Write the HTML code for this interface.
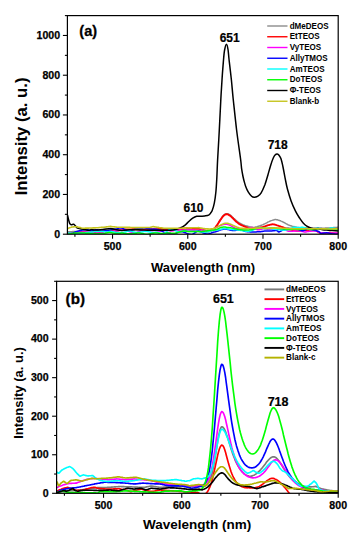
<!DOCTYPE html>
<html><head><meta charset="utf-8"><title>Intensity spectra</title><style>
html,body{margin:0;padding:0;background:#fff;}
svg{display:block;}
text{font-family:"Liberation Sans", sans-serif;font-weight:bold;fill:#000;}
.tl{font-size:10.6px;stroke:#000;stroke-width:0.25px;}
.lg{font-size:9px;}
.pl{font-size:14.5px;stroke:#000;stroke-width:0.3px;}
.ax{font-size:13px;}
.ax2{font-size:13.5px;}
.ay{font-size:16.7px;}
.ay2{font-size:13px;}
.pk{font-size:12px;stroke:#000;stroke-width:0.2px;}
.pk2{font-size:12.5px;stroke:#000;stroke-width:0.2px;}
.pl2{font-size:15.2px;stroke:#000;stroke-width:0.3px;}
</style></head><body>
<svg width="352" height="550" viewBox="0 0 352 550">
<rect width="352" height="550" fill="#fff"/>
<defs><clipPath id="ca"><rect x="67.4" y="15.6" width="270.80" height="218.60"/></clipPath><clipPath id="cb"><rect x="56.6" y="281.3" width="281.60" height="212.00"/></clipPath></defs>
<g clip-path="url(#ca)">
<path d="M67.4,231.8 68.2,231.8 68.9,231.8 69.7,231.7 70.4,231.7 71.2,231.7 71.9,231.7 72.7,231.6 73.4,231.6 74.2,231.6 74.9,231.6 75.7,231.5 76.4,231.5 77.2,231.5 77.9,231.4 78.7,231.4 79.4,231.4 80.2,231.4 80.9,231.3 81.7,231.3 82.4,231.3 83.2,231.3 83.9,231.2 84.7,231.2 85.5,231.2 86.2,231.2 87.0,231.1 87.7,231.1 88.5,231.1 89.2,231.0 90.0,231.0 90.7,231.0 91.5,231.0 92.2,230.9 93.0,230.9 93.7,230.9 94.5,230.9 95.2,230.8 96.0,230.8 96.7,230.8 97.5,230.8 98.2,230.7 99.0,230.7 99.7,230.7 100.5,230.7 101.2,230.6 102.0,230.6 102.8,230.6 103.5,230.5 104.3,230.5 105.0,230.5 105.8,230.5 106.5,230.4 107.3,230.4 108.0,230.4 108.8,230.4 109.5,230.3 110.3,230.3 111.0,230.3 111.8,230.3 112.5,230.2 113.3,230.2 114.0,230.2 114.8,230.2 115.5,230.2 116.3,230.2 117.0,230.2 117.8,230.2 118.6,230.2 119.3,230.2 120.1,230.1 120.8,230.1 121.6,230.1 122.3,230.1 123.1,230.1 123.8,230.1 124.6,230.1 125.3,230.1 126.1,230.1 126.8,230.1 127.6,230.1 128.3,230.1 129.1,230.1 129.8,230.0 130.6,230.0 131.3,230.0 132.1,230.0 132.8,230.0 133.6,230.0 134.3,230.0 135.1,230.0 135.9,230.0 136.6,230.0 137.4,230.0 138.1,230.0 138.9,230.0 139.6,229.9 140.4,229.9 141.1,229.9 141.9,229.9 142.6,229.9 143.4,229.9 144.1,229.9 144.9,229.9 145.6,229.9 146.4,229.9 147.1,229.9 147.9,229.9 148.6,229.8 149.4,229.8 150.1,229.8 150.9,229.8 151.6,229.8 152.4,229.8 153.2,229.8 153.9,229.8 154.7,229.8 155.4,229.8 156.2,229.8 156.9,229.8 157.7,229.8 158.4,229.8 159.2,229.7 159.9,229.7 160.7,229.7 161.4,229.7 162.2,229.7 162.9,229.7 163.7,229.7 164.4,229.7 165.2,229.7 165.9,229.7 166.7,229.7 167.4,229.7 168.2,229.7 168.9,229.7 169.7,229.6 170.5,229.6 171.2,229.6 172.0,229.6 172.7,229.6 173.5,229.6 174.2,229.6 175.0,229.6 175.7,229.6 176.5,229.6 177.2,229.6 178.0,229.6 178.7,229.5 179.5,229.5 180.2,229.5 181.0,229.5 181.7,229.5 182.5,229.5 183.2,229.5 184.0,229.5 184.7,229.5 185.5,229.5 186.3,229.5 187.0,229.4 187.8,229.4 188.5,229.6 189.3,229.7 190.0,229.8 190.8,230.0 191.5,230.1 192.3,230.2 193.0,230.4 193.8,230.5 194.5,230.6 195.3,230.8 196.0,230.9 196.8,231.0 197.5,231.1 198.3,231.3 199.0,231.4 199.8,231.5 200.5,231.6 201.3,231.7 202.0,231.8 202.8,231.9 203.6,232.0 204.3,232.1 205.1,232.1 205.8,232.2 206.6,232.2 207.3,232.1 208.1,232.0 208.8,231.9 209.6,231.8 210.3,231.5 211.1,231.2 211.8,230.8 212.6,230.4 213.3,229.9 214.1,229.2 214.8,228.3 215.6,227.3 216.3,226.3 217.1,225.1 217.8,223.9 218.6,222.7 219.3,221.5 220.1,220.2 220.9,219.0 221.6,217.9 222.4,216.8 223.1,215.9 223.9,215.1 224.6,214.4 225.4,214.0 226.1,213.7 226.9,213.7 227.6,213.8 228.4,214.0 229.1,214.4 229.9,214.9 230.6,215.4 231.4,216.1 232.1,216.8 232.9,217.5 233.6,218.2 234.4,218.9 235.1,219.6 235.9,220.3 236.6,220.9 237.4,221.5 238.2,222.1 238.9,222.6 239.7,223.0 240.4,223.5 241.2,223.9 241.9,224.3 242.7,224.6 243.4,225.0 244.2,225.2 244.9,225.5 245.7,225.7 246.4,225.9 247.2,226.1 247.9,226.3 248.7,226.5 249.4,226.7 250.2,226.9 250.9,227.0 251.7,227.2 252.4,227.3 253.2,227.4 254.0,227.4 254.7,227.3 255.5,227.1 256.2,227.0 257.0,226.8 257.7,226.5 258.5,226.3 259.2,226.0 260.0,225.8 260.7,225.5 261.5,225.2 262.2,224.9 263.0,224.6 263.7,224.3 264.5,223.9 265.2,223.6 266.0,223.2 266.7,222.8 267.5,222.3 268.2,221.9 269.0,221.6 269.7,221.3 270.5,220.9 271.3,220.6 272.0,220.4 272.8,220.1 273.5,219.9 274.3,219.7 275.0,219.6 275.8,219.6 276.5,219.7 277.3,219.8 278.0,220.0 278.8,220.2 279.5,220.5 280.3,220.7 281.0,221.1 281.8,221.4 282.5,221.8 283.3,222.1 284.0,222.5 284.8,222.9 285.5,223.4 286.3,223.8 287.0,224.2 287.8,224.7 288.6,224.9 289.3,225.2 290.1,225.5 290.8,225.7 291.6,226.0 292.3,226.2 293.1,226.4 293.8,226.6 294.6,226.8 295.3,226.9 296.1,227.1 296.8,227.3 297.6,227.5 298.3,227.6 299.1,227.7 299.8,227.8 300.6,227.9 301.3,228.0 302.1,228.0 302.8,228.1 303.6,228.1 304.3,228.1 305.1,228.1 305.9,228.1 306.6,228.1 307.4,228.1 308.1,228.1 308.9,228.0 309.6,228.0 310.4,228.0 311.1,228.0 311.9,228.0 312.6,228.0 313.4,227.9 314.1,227.9 314.9,227.9 315.6,227.9 316.4,227.9 317.1,227.9 317.9,227.9 318.6,228.0 319.4,228.0 320.1,228.1 320.9,228.1 321.7,228.1 322.4,228.2 323.2,228.2 323.9,228.2 324.7,228.2 325.4,228.1 326.2,228.1 326.9,228.1 327.7,228.0 328.4,228.0 329.2,227.9 329.9,227.9 330.7,227.8 331.4,227.8 332.2,227.7 332.9,227.7 333.7,227.6 334.4,227.5 335.2,227.5 335.9,227.4 336.7,227.4 337.4,227.3 338.2,227.2" fill="none" stroke="#8c8c8c" stroke-width="1.5" stroke-linejoin="round" stroke-linecap="round"/>
<path d="M67.4,232.9 68.2,232.9 68.9,232.9 69.7,232.9 70.4,232.9 71.2,233.0 71.9,233.0 72.7,232.9 73.4,232.9 74.2,232.9 74.9,232.9 75.7,232.9 76.4,232.8 77.2,232.8 77.9,232.8 78.7,232.7 79.4,232.6 80.2,232.6 80.9,232.5 81.7,232.4 82.4,232.4 83.2,232.4 83.9,232.4 84.7,232.4 85.5,232.5 86.2,232.6 87.0,232.6 87.7,232.7 88.5,232.7 89.2,232.7 90.0,232.7 90.7,232.6 91.5,232.6 92.2,232.5 93.0,232.4 93.7,232.3 94.5,232.1 95.2,232.0 96.0,231.9 96.7,231.8 97.5,231.8 98.2,231.8 99.0,231.7 99.7,231.7 100.5,231.6 101.2,231.5 102.0,231.4 102.8,231.2 103.5,231.1 104.3,231.0 105.0,230.9 105.8,230.9 106.5,230.9 107.3,230.9 108.0,230.9 108.8,230.9 109.5,230.9 110.3,230.9 111.0,230.9 111.8,230.9 112.5,230.9 113.3,230.9 114.0,230.9 114.8,230.9 115.5,230.9 116.3,230.8 117.0,230.7 117.8,230.6 118.6,230.5 119.3,230.3 120.1,230.1 120.8,229.9 121.6,229.7 122.3,229.6 123.1,229.5 123.8,229.5 124.6,229.5 125.3,229.5 126.1,229.5 126.8,229.5 127.6,229.5 128.3,229.5 129.1,229.5 129.8,229.5 130.6,229.5 131.3,229.4 132.1,229.3 132.8,229.2 133.6,229.2 134.3,229.2 135.1,229.1 135.9,229.2 136.6,229.2 137.4,229.3 138.1,229.3 138.9,229.4 139.6,229.5 140.4,229.5 141.1,229.6 141.9,229.7 142.6,229.7 143.4,229.7 144.1,229.7 144.9,229.6 145.6,229.5 146.4,229.5 147.1,229.4 147.9,229.3 148.6,229.2 149.4,229.2 150.1,229.2 150.9,229.2 151.6,229.2 152.4,229.3 153.2,229.3 153.9,229.3 154.7,229.3 155.4,229.3 156.2,229.2 156.9,229.2 157.7,229.1 158.4,229.0 159.2,229.0 159.9,228.9 160.7,228.9 161.4,228.8 162.2,228.8 162.9,228.9 163.7,229.0 164.4,229.1 165.2,229.2 165.9,229.4 166.7,229.5 167.4,229.7 168.2,229.8 168.9,229.8 169.7,229.9 170.5,229.9 171.2,229.9 172.0,229.9 172.7,229.8 173.5,229.8 174.2,229.8 175.0,229.8 175.7,229.8 176.5,229.8 177.2,229.7 178.0,229.7 178.7,229.6 179.5,229.5 180.2,229.4 181.0,229.2 181.7,229.0 182.5,228.8 183.2,228.7 184.0,228.5 184.7,228.4 185.5,228.4 186.3,228.3 187.0,228.3 187.8,228.4 188.5,228.4 189.3,228.5 190.0,228.5 190.8,228.6 191.5,228.7 192.3,228.8 193.0,228.9 193.8,228.9 194.5,228.9 195.3,228.9 196.0,228.9 196.8,228.8 197.5,228.8 198.3,228.7 199.0,228.9 199.8,229.0 200.5,229.2 201.3,229.4 202.0,229.6 202.8,229.8 203.6,230.0 204.3,230.2 205.1,230.4 205.8,230.6 206.6,230.7 207.3,230.7 208.1,230.8 208.8,230.7 209.6,230.7 210.3,230.5 211.1,230.3 211.8,230.1 212.6,229.7 213.3,229.3 214.1,228.8 214.8,228.0 215.6,227.1 216.3,226.1 217.1,225.1 217.8,224.0 218.6,222.8 219.3,221.6 220.1,220.4 220.9,219.3 221.6,218.2 222.4,217.1 223.1,216.2 223.9,215.5 224.6,214.9 225.4,214.5 226.1,214.3 226.9,214.3 227.6,214.4 228.4,214.7 229.1,215.1 229.9,215.6 230.6,216.1 231.4,216.8 232.1,217.5 232.9,218.2 233.6,219.0 234.4,219.8 235.1,220.5 235.9,221.3 236.6,222.0 237.4,222.6 238.2,223.2 238.9,223.8 239.7,224.2 240.4,224.7 241.2,225.0 241.9,225.3 242.7,225.7 243.4,226.0 244.2,226.3 244.9,226.6 245.7,226.9 246.4,227.1 247.2,227.4 247.9,227.6 248.7,227.8 249.4,228.0 250.2,228.1 250.9,228.2 251.7,228.3 252.4,228.4 253.2,228.4 254.0,228.5 254.7,228.5 255.5,228.4 256.2,228.4 257.0,228.3 257.7,228.2 258.5,228.0 259.2,227.9 260.0,227.7 260.7,227.5 261.5,227.3 262.2,227.1 263.0,226.9 263.7,226.7 264.5,226.5 265.2,226.3 266.0,226.0 266.7,225.7 267.5,225.5 268.2,225.2 269.0,225.0 269.7,224.8 270.5,224.6 271.3,224.5 272.0,224.4 272.8,224.3 273.5,224.4 274.3,224.5 275.0,224.6 275.8,224.8 276.5,225.1 277.3,225.4 278.0,225.6 278.8,225.9 279.5,226.1 280.3,226.4 281.0,226.7 281.8,226.9 282.5,227.1 283.3,227.4 284.0,227.7 284.8,227.9 285.5,228.3 286.3,228.6 287.0,228.9 287.8,229.2 288.6,229.3 289.3,229.4 290.1,229.5 290.8,229.7 291.6,229.9 292.3,230.0 293.1,230.2 293.8,230.4 294.6,230.5 295.3,230.6 296.1,230.7 296.8,230.8 297.6,230.8 298.3,230.8 299.1,230.8 299.8,230.8 300.6,230.7 301.3,230.6 302.1,230.4 302.8,230.4 303.6,230.3 304.3,230.3 305.1,230.2 305.9,230.2 306.6,230.3 307.4,230.3 308.1,230.3 308.9,230.3 309.6,230.4 310.4,230.3 311.1,230.3 311.9,230.3 312.6,230.2 313.4,230.2 314.1,230.2 314.9,230.1 315.6,230.1 316.4,230.7 317.1,231.2 317.9,231.8 318.6,232.3 319.4,232.8 320.1,232.9 320.9,233.1 321.7,233.2 322.4,233.4 323.2,233.5 323.9,233.5 324.7,233.4 325.4,233.4 326.2,233.3 326.9,233.1 327.7,233.0 328.4,232.9 329.2,232.8 329.9,232.8 330.7,232.8 331.4,232.9 332.2,233.0 332.9,233.2 333.7,233.3 334.4,233.4 335.2,233.5 335.9,233.5 336.7,233.4 337.4,233.4 338.2,233.3" fill="none" stroke="#ff0000" stroke-width="1.9" stroke-linejoin="round" stroke-linecap="round"/>
<path d="M67.4,233.5 68.2,233.5 68.9,233.6 69.7,233.6 70.4,233.6 71.2,233.6 71.9,233.5 72.7,233.3 73.4,233.1 74.2,232.9 74.9,232.6 75.7,232.4 76.4,232.3 77.2,232.2 77.9,232.2 78.7,232.2 79.4,232.3 80.2,232.3 80.9,232.4 81.7,232.3 82.4,232.2 83.2,232.2 83.9,232.1 84.7,232.1 85.5,232.0 86.2,231.9 87.0,231.9 87.7,231.9 88.5,231.9 89.2,232.0 90.0,232.1 90.7,232.3 91.5,232.5 92.2,232.7 93.0,232.9 93.7,233.1 94.5,233.2 95.2,233.2 96.0,233.2 96.7,233.2 97.5,233.1 98.2,233.1 99.0,233.1 99.7,233.1 100.5,233.0 101.2,232.9 102.0,232.7 102.8,232.4 103.5,232.1 104.3,231.7 105.0,231.4 105.8,231.1 106.5,231.0 107.3,230.9 108.0,231.0 108.8,231.1 109.5,231.2 110.3,231.4 111.0,231.4 111.8,231.4 112.5,231.3 113.3,231.2 114.0,231.1 114.8,230.9 115.5,230.8 116.3,230.7 117.0,230.7 117.8,230.6 118.6,230.5 119.3,230.3 120.1,230.2 120.8,230.1 121.6,230.1 122.3,230.1 123.1,230.1 123.8,230.2 124.6,230.4 125.3,230.6 126.1,230.8 126.8,231.0 127.6,231.1 128.3,231.3 129.1,231.5 129.8,231.7 130.6,231.9 131.3,232.2 132.1,232.4 132.8,232.6 133.6,232.8 134.3,232.8 135.1,232.8 135.9,232.7 136.6,232.4 137.4,232.2 138.1,231.8 138.9,231.5 139.6,231.2 140.4,231.0 141.1,230.8 141.9,230.6 142.6,230.5 143.4,230.4 144.1,230.4 144.9,230.5 145.6,230.5 146.4,230.6 147.1,230.7 147.9,230.8 148.6,230.8 149.4,230.8 150.1,230.8 150.9,230.8 151.6,230.7 152.4,230.7 153.2,230.6 153.9,230.6 154.7,230.6 155.4,230.6 156.2,230.7 156.9,230.8 157.7,230.9 158.4,231.0 159.2,231.1 159.9,231.2 160.7,231.2 161.4,231.1 162.2,231.0 162.9,230.9 163.7,230.7 164.4,230.6 165.2,230.5 165.9,230.4 166.7,230.4 167.4,230.4 168.2,230.5 168.9,230.6 169.7,230.8 170.5,230.9 171.2,230.9 172.0,230.9 172.7,230.8 173.5,230.7 174.2,230.5 175.0,230.3 175.7,230.1 176.5,230.0 177.2,229.9 178.0,229.8 178.7,229.9 179.5,229.9 180.2,230.0 181.0,230.1 181.7,230.2 182.5,230.2 183.2,230.3 184.0,230.3 184.7,230.3 185.5,230.2 186.3,230.2 187.0,230.2 187.8,230.1 188.5,230.0 189.3,230.0 190.0,229.9 190.8,229.9 191.5,229.9 192.3,229.9 193.0,230.0 193.8,230.1 194.5,230.2 195.3,230.3 196.0,230.4 196.8,230.5 197.5,230.6 198.3,230.5 199.0,230.5 199.8,230.3 200.5,230.2 201.3,230.1 202.0,230.1 202.8,230.1 203.6,230.2 204.3,230.4 205.1,230.6 205.8,230.8 206.6,231.0 207.3,231.1 208.1,231.1 208.8,231.0 209.6,230.8 210.3,230.6 211.1,230.3 211.8,229.9 212.6,229.5 213.3,229.1 214.1,228.7 214.8,228.3 215.6,228.0 216.3,227.6 217.1,227.3 217.8,226.9 218.6,226.5 219.3,226.1 220.1,225.7 220.9,225.4 221.6,225.0 222.4,224.8 223.1,224.5 223.9,224.4 224.6,224.3 225.4,224.2 226.1,224.2 226.9,224.3 227.6,224.4 228.4,224.7 229.1,224.9 229.9,225.3 230.6,225.7 231.4,226.1 232.1,226.5 232.9,226.9 233.6,227.3 234.4,227.6 235.1,227.9 235.9,228.2 236.6,228.4 237.4,228.6 238.2,228.7 238.9,228.8 239.7,228.9 240.4,228.9 241.2,228.8 241.9,228.7 242.7,228.7 243.4,228.7 244.2,228.8 244.9,228.8 245.7,228.8 246.4,228.7 247.2,228.6 247.9,228.4 248.7,228.1 249.4,227.9 250.2,227.7 250.9,227.5 251.7,227.5 252.4,227.6 253.2,227.8 254.0,228.1 254.7,228.5 255.5,228.8 256.2,229.3 257.0,229.6 257.7,229.8 258.5,229.8 259.2,229.8 260.0,229.6 260.7,229.4 261.5,229.2 262.2,229.0 263.0,228.8 263.7,228.8 264.5,228.8 265.2,228.8 266.0,228.9 266.7,229.0 267.5,229.2 268.2,229.3 269.0,229.3 269.7,229.3 270.5,229.4 271.3,229.4 272.0,229.4 272.8,229.4 273.5,229.5 274.3,229.6 275.0,229.7 275.8,229.7 276.5,229.8 277.3,229.7 278.0,229.6 278.8,229.4 279.5,229.2 280.3,229.0 281.0,228.9 281.8,228.8 282.5,228.9 283.3,229.0 284.0,229.2 284.8,229.6 285.5,230.0 286.3,230.3 287.0,230.7 287.8,231.0 288.6,231.2 289.3,231.3 290.1,231.3 290.8,231.3 291.6,231.3 292.3,231.2 293.1,231.2 293.8,231.1 294.6,231.1 295.3,231.1 296.1,231.1 296.8,231.1 297.6,231.0 298.3,231.0 299.1,231.0 299.8,231.0 300.6,231.1 301.3,231.3 302.1,231.4 302.8,231.6 303.6,231.8 304.3,231.9 305.1,231.9 305.9,231.9 306.6,231.8 307.4,231.6 308.1,231.5 308.9,231.4 309.6,231.3 310.4,231.2 311.1,231.2 311.9,231.1 312.6,231.1 313.4,231.0 314.1,230.9 314.9,230.9 315.6,230.8 316.4,231.1 317.1,231.4 317.9,231.7 318.6,232.1 319.4,232.4 320.1,232.6 320.9,232.7 321.7,232.8 322.4,232.9 323.2,232.9 323.9,232.8 324.7,232.8 325.4,232.8 326.2,232.8 326.9,232.9 327.7,233.0 328.4,233.0 329.2,233.0 329.9,233.0 330.7,232.9 331.4,232.9 332.2,232.9 332.9,232.9 333.7,232.9 334.4,232.9 335.2,233.0 335.9,233.0 336.7,232.9 337.4,232.9 338.2,232.8" fill="none" stroke="#ff00ff" stroke-width="1.5" stroke-linejoin="round" stroke-linecap="round"/>
<path d="M67.4,234.3 68.2,234.3 68.9,234.2 69.7,234.1 70.4,233.9 71.2,233.8 71.9,233.5 72.7,233.2 73.4,232.8 74.2,232.5 74.9,232.1 75.7,231.8 76.4,231.6 77.2,231.4 77.9,231.1 78.7,230.9 79.4,230.7 80.2,230.6 80.9,230.4 81.7,230.2 82.4,230.0 83.2,229.9 83.9,229.8 84.7,229.7 85.5,229.6 86.2,229.6 87.0,229.7 87.7,229.8 88.5,230.0 89.2,230.2 90.0,230.4 90.7,230.5 91.5,230.5 92.2,230.4 93.0,230.2 93.7,230.1 94.5,229.9 95.2,229.8 96.0,229.7 96.7,229.8 97.5,229.8 98.2,229.9 99.0,229.9 99.7,229.9 100.5,229.9 101.2,229.9 102.0,229.8 102.8,229.9 103.5,229.9 104.3,230.1 105.0,230.2 105.8,230.4 106.5,230.5 107.3,230.5 108.0,230.5 108.8,230.3 109.5,230.2 110.3,229.9 111.0,229.7 111.8,229.6 112.5,229.4 113.3,229.3 114.0,229.2 114.8,229.2 115.5,229.1 116.3,228.9 117.0,228.8 117.8,228.5 118.6,228.3 119.3,228.1 120.1,228.0 120.8,228.0 121.6,228.1 122.3,228.3 123.1,228.5 123.8,228.9 124.6,229.2 125.3,229.6 126.1,230.0 126.8,230.3 127.6,230.5 128.3,230.7 129.1,230.8 129.8,230.8 130.6,230.6 131.3,230.4 132.1,230.1 132.8,229.9 133.6,229.6 134.3,229.4 135.1,229.2 135.9,229.0 136.6,228.9 137.4,228.8 138.1,228.8 138.9,228.7 139.6,228.7 140.4,228.6 141.1,228.5 141.9,228.3 142.6,228.2 143.4,228.1 144.1,228.1 144.9,228.1 145.6,228.1 146.4,228.2 147.1,228.4 147.9,228.5 148.6,228.7 149.4,228.8 150.1,229.0 150.9,229.1 151.6,229.2 152.4,229.2 153.2,229.2 153.9,229.1 154.7,229.2 155.4,229.2 156.2,229.3 156.9,229.4 157.7,229.5 158.4,229.7 159.2,229.9 159.9,230.2 160.7,230.5 161.4,230.9 162.2,231.3 162.9,231.7 163.7,232.1 164.4,232.4 165.2,232.8 165.9,232.9 166.7,233.0 167.4,233.1 168.2,233.2 168.9,233.2 169.7,233.4 170.5,233.5 171.2,233.7 172.0,233.9 172.7,234.0 173.5,234.0 174.2,233.9 175.0,233.7 175.7,233.4 176.5,233.0 177.2,232.6 178.0,232.3 178.7,232.0 179.5,231.8 180.2,231.7 181.0,231.7 181.7,231.7 182.5,231.8 183.2,232.0 184.0,232.2 184.7,232.5 185.5,232.8 186.3,233.1 187.0,233.4 187.8,233.7 188.5,234.0 189.3,234.2 190.0,234.3 190.8,234.4 191.5,234.4 192.3,234.2 193.0,233.9 193.8,233.5 194.5,233.0 195.3,232.5 196.0,232.0 196.8,231.5 197.5,231.2 198.3,231.1 199.0,231.2 199.8,231.4 200.5,231.7 201.3,232.1 202.0,232.4 202.8,232.8 203.6,233.1 204.3,233.4 205.1,233.7 205.8,233.8 206.6,233.9 207.3,234.0 208.1,233.9 208.8,233.8 209.6,233.6 210.3,233.4 211.1,233.1 211.8,232.8 212.6,232.6 213.3,232.3 214.1,232.1 214.8,231.9 215.6,231.7 216.3,231.4 217.1,231.2 217.8,230.9 218.6,230.7 219.3,230.4 220.1,230.1 220.9,229.9 221.6,229.6 222.4,229.4 223.1,229.3 223.9,229.1 224.6,229.1 225.4,229.1 226.1,229.2 226.9,229.3 227.6,229.5 228.4,229.6 229.1,229.8 229.9,230.0 230.6,230.2 231.4,230.3 232.1,230.4 232.9,230.5 233.6,230.5 234.4,230.5 235.1,230.4 235.9,230.2 236.6,230.1 237.4,229.9 238.2,229.8 238.9,229.7 239.7,229.7 240.4,229.8 241.2,229.9 241.9,230.1 242.7,230.4 243.4,230.7 244.2,231.0 244.9,231.3 245.7,231.5 246.4,231.6 247.2,231.7 247.9,231.7 248.7,231.8 249.4,231.8 250.2,231.9 250.9,231.9 251.7,232.0 252.4,232.1 253.2,232.1 254.0,232.0 254.7,232.0 255.5,231.9 256.2,231.9 257.0,231.8 257.7,231.8 258.5,231.8 259.2,231.8 260.0,231.7 260.7,231.7 261.5,231.6 262.2,231.5 263.0,231.3 263.7,231.2 264.5,231.1 265.2,231.1 266.0,231.0 266.7,231.0 267.5,231.0 268.2,231.0 269.0,231.0 269.7,231.0 270.5,231.0 271.3,230.9 272.0,230.9 272.8,230.8 273.5,230.8 274.3,230.7 275.0,230.6 275.8,230.5 276.5,230.4 277.3,230.9 278.0,231.5 278.8,232.0 279.5,231.7 280.3,231.4 281.0,231.0 281.8,230.6 282.5,230.1 283.3,229.7 284.0,229.3 284.8,229.0 285.5,228.7 286.3,228.5 287.0,228.3 287.8,228.3 288.6,228.3 289.3,228.4 290.1,228.6 290.8,228.7 291.6,228.7 292.3,228.8 293.1,228.8 293.8,228.8 294.6,228.9 295.3,228.9 296.1,228.9 296.8,229.1 297.6,229.2 298.3,229.4 299.1,229.7 299.8,230.0 300.6,230.3 301.3,230.6 302.1,230.7 302.8,230.7 303.6,230.5 304.3,230.3 305.1,230.0 305.9,229.6 306.6,229.3 307.4,229.0 308.1,228.8 308.9,228.8 309.6,228.9 310.4,229.1 311.1,229.4 311.9,229.6 312.6,229.9 313.4,230.1 314.1,230.3 314.9,230.4 315.6,230.4 316.4,230.7 317.1,231.0 317.9,231.2 318.6,231.4 319.4,232.1 320.1,232.8 320.9,233.5 321.7,233.4 322.4,233.3 323.2,233.2 323.9,233.1 324.7,233.0 325.4,232.9 326.2,232.8 326.9,232.8 327.7,232.9 328.4,233.0 329.2,233.2 329.9,233.4 330.7,233.6 331.4,233.7 332.2,233.9 332.9,234.0 333.7,234.1 334.4,234.1 335.2,234.2 335.9,234.2 336.7,234.3 337.4,234.3 338.2,234.3" fill="none" stroke="#0000ff" stroke-width="1.5" stroke-linejoin="round" stroke-linecap="round"/>
<path d="M67.4,233.1 68.2,233.0 68.9,232.9 69.7,233.0 70.4,233.0 71.2,233.2 71.9,233.3 72.7,233.5 73.4,233.7 74.2,233.8 74.9,233.9 75.7,233.8 76.4,233.8 77.2,233.7 77.9,233.5 78.7,233.4 79.4,233.3 80.2,233.2 80.9,233.2 81.7,233.1 82.4,233.1 83.2,233.0 83.9,232.9 84.7,232.8 85.5,232.7 86.2,232.6 87.0,232.5 87.7,232.4 88.5,232.3 89.2,232.3 90.0,232.2 90.7,232.2 91.5,232.1 92.2,232.0 93.0,231.9 93.7,231.8 94.5,231.6 95.2,231.6 96.0,231.5 96.7,231.4 97.5,231.4 98.2,231.3 99.0,231.3 99.7,231.3 100.5,231.3 101.2,231.3 102.0,231.3 102.8,231.4 103.5,231.5 104.3,231.7 105.0,231.8 105.8,231.9 106.5,231.9 107.3,231.9 108.0,231.8 108.8,231.7 109.5,231.6 110.3,231.5 111.0,231.5 111.8,231.6 112.5,231.7 113.3,231.8 114.0,232.0 114.8,232.1 115.5,232.3 116.3,232.4 117.0,232.5 117.8,232.6 118.6,232.6 119.3,232.7 120.1,232.7 120.8,232.6 121.6,232.6 122.3,232.5 123.1,232.4 123.8,232.3 124.6,232.1 125.3,231.9 126.1,231.7 126.8,231.4 127.6,231.2 128.3,231.1 129.1,231.0 129.8,231.0 130.6,231.1 131.3,231.3 132.1,231.5 132.8,231.8 133.6,232.0 134.3,232.1 135.1,232.3 135.9,232.3 136.6,232.4 137.4,232.4 138.1,232.3 138.9,232.2 139.6,232.2 140.4,232.1 141.1,232.0 141.9,231.9 142.6,231.8 143.4,231.7 144.1,231.6 144.9,231.6 145.6,231.6 146.4,231.5 147.1,231.6 147.9,231.7 148.6,231.8 149.4,232.0 150.1,232.1 150.9,232.3 151.6,232.4 152.4,232.5 153.2,232.5 153.9,232.4 154.7,232.4 155.4,232.3 156.2,232.3 156.9,232.3 157.7,232.5 158.4,232.7 159.2,233.0 159.9,233.3 160.7,233.5 161.4,233.7 162.2,233.7 162.9,233.7 163.7,233.4 164.4,233.1 165.2,232.6 165.9,232.1 166.7,231.5 167.4,230.9 168.2,230.3 168.9,229.8 169.7,229.4 170.5,229.1 171.2,229.0 172.0,229.1 172.7,229.3 173.5,229.6 174.2,230.0 175.0,230.4 175.7,230.8 176.5,231.1 177.2,231.4 178.0,231.6 178.7,231.7 179.5,231.6 180.2,231.6 181.0,231.4 181.7,231.3 182.5,231.2 183.2,231.1 184.0,231.0 184.7,231.1 185.5,231.1 186.3,231.2 187.0,231.3 187.8,231.4 188.5,231.4 189.3,231.5 190.0,231.5 190.8,231.6 191.5,231.6 192.3,231.6 193.0,231.6 193.8,231.5 194.5,231.5 195.3,231.4 196.0,231.3 196.8,231.3 197.5,231.3 198.3,231.4 199.0,231.5 199.8,231.6 200.5,231.7 201.3,231.8 202.0,231.9 202.8,232.0 203.6,232.0 204.3,232.1 205.1,232.1 205.8,232.1 206.6,232.0 207.3,231.9 208.1,231.8 208.8,231.6 209.6,231.3 210.3,231.1 211.1,230.9 211.8,230.6 212.6,230.5 213.3,230.3 214.1,230.2 214.8,230.1 215.6,230.0 216.3,230.0 217.1,229.9 217.8,229.9 218.6,229.8 219.3,229.7 220.1,229.5 220.9,229.3 221.6,229.1 222.4,228.9 223.1,228.7 223.9,228.6 224.6,228.6 225.4,228.6 226.1,228.7 226.9,228.8 227.6,228.9 228.4,229.0 229.1,229.2 229.9,229.3 230.6,229.4 231.4,229.5 232.1,229.6 232.9,229.6 233.6,229.7 234.4,229.7 235.1,229.7 235.9,229.8 236.6,229.8 237.4,229.9 238.2,230.0 238.9,230.1 239.7,230.2 240.4,230.4 241.2,230.5 241.9,230.6 242.7,230.7 243.4,230.9 244.2,231.0 244.9,231.1 245.7,231.2 246.4,231.2 247.2,231.3 247.9,231.3 248.7,231.2 249.4,231.1 250.2,231.0 250.9,230.9 251.7,230.6 252.4,230.4 253.2,230.0 254.0,229.6 254.7,229.1 255.5,228.7 256.2,228.4 257.0,228.1 257.7,227.9 258.5,227.9 259.2,227.9 260.0,228.0 260.7,228.1 261.5,228.3 262.2,228.4 263.0,228.5 263.7,228.6 264.5,228.6 265.2,228.6 266.0,228.6 266.7,228.6 267.5,228.6 268.2,228.6 269.0,228.6 269.7,228.6 270.5,228.7 271.3,228.8 272.0,228.9 272.8,229.1 273.5,229.2 274.3,229.2 275.0,229.3 275.8,229.4 276.5,229.5 277.3,229.6 278.0,229.7 278.8,229.7 279.5,229.8 280.3,229.9 281.0,229.9 281.8,230.0 282.5,230.1 283.3,230.2 284.0,230.2 284.8,230.2 285.5,230.1 286.3,229.9 287.0,229.7 287.8,229.5 288.6,229.2 289.3,228.8 290.1,228.5 290.8,228.2 291.6,227.9 292.3,227.6 293.1,227.4 293.8,227.3 294.6,227.3 295.3,227.3 296.1,227.4 296.8,227.4 297.6,227.5 298.3,227.5 299.1,227.5 299.8,227.5 300.6,227.4 301.3,227.3 302.1,227.3 302.8,227.3 303.6,227.4 304.3,227.6 305.1,227.8 305.9,228.1 306.6,228.4 307.4,228.7 308.1,229.0 308.9,229.3 309.6,229.4 310.4,229.5 311.1,229.5 311.9,229.4 312.6,229.3 313.4,229.1 314.1,228.9 314.9,228.7 315.6,228.5 316.4,228.4 317.1,228.3 317.9,228.3 318.6,228.3 319.4,228.4 320.1,228.6 320.9,228.8 321.7,228.9 322.4,229.1 323.2,229.2 323.9,229.3 324.7,229.4 325.4,229.3 326.2,229.3 326.9,229.1 327.7,228.9 328.4,228.7 329.2,228.5 329.9,228.3 330.7,228.1 331.4,228.0 332.2,228.0 332.9,228.1 333.7,228.2 334.4,228.3 335.2,228.5 335.9,228.7 336.7,228.8 337.4,228.9 338.2,229.0" fill="none" stroke="#00ffff" stroke-width="1.5" stroke-linejoin="round" stroke-linecap="round"/>
<path d="M67.4,234.2 68.2,234.2 68.9,234.1 69.7,234.1 70.4,234.0 71.2,233.8 71.9,233.7 72.7,233.5 73.4,233.3 74.2,233.1 74.9,233.0 75.7,232.9 76.4,232.9 77.2,232.9 77.9,232.9 78.7,232.9 79.4,233.0 80.2,233.0 80.9,233.0 81.7,233.0 82.4,233.1 83.2,233.1 83.9,233.1 84.7,233.1 85.5,233.2 86.2,233.2 87.0,233.2 87.7,233.2 88.5,233.3 89.2,233.3 90.0,233.4 90.7,233.5 91.5,233.6 92.2,233.6 93.0,233.7 93.7,233.8 94.5,233.8 95.2,233.8 96.0,233.8 96.7,233.7 97.5,233.7 98.2,233.7 99.0,233.7 99.7,233.6 100.5,233.6 101.2,233.6 102.0,233.6 102.8,233.6 103.5,233.5 104.3,233.4 105.0,233.3 105.8,233.1 106.5,233.0 107.3,232.8 108.0,232.7 108.8,232.6 109.5,232.6 110.3,232.6 111.0,232.7 111.8,232.8 112.5,232.9 113.3,233.1 114.0,233.2 114.8,233.4 115.5,233.5 116.3,233.5 117.0,233.6 117.8,233.5 118.6,233.5 119.3,233.4 120.1,233.3 120.8,233.2 121.6,233.1 122.3,233.1 123.1,233.2 123.8,233.3 124.6,233.4 125.3,233.5 126.1,233.6 126.8,233.7 127.6,233.8 128.3,233.8 129.1,233.8 129.8,233.8 130.6,233.7 131.3,233.7 132.1,233.7 132.8,233.6 133.6,233.5 134.3,233.5 135.1,233.4 135.9,233.3 136.6,233.2 137.4,233.1 138.1,233.0 138.9,233.0 139.6,233.1 140.4,233.1 141.1,233.3 141.9,233.5 142.6,233.6 143.4,233.8 144.1,234.0 144.9,234.1 145.6,234.2 146.4,234.2 147.1,234.2 147.9,234.2 148.6,234.1 149.4,234.0 150.1,233.8 150.9,233.7 151.6,233.5 152.4,233.3 153.2,233.2 153.9,233.1 154.7,233.0 155.4,233.0 156.2,233.0 156.9,233.0 157.7,233.1 158.4,233.2 159.2,233.3 159.9,233.4 160.7,233.5 161.4,233.6 162.2,233.6 162.9,233.6 163.7,233.5 164.4,233.5 165.2,233.4 165.9,233.2 166.7,233.1 167.4,233.1 168.2,233.0 168.9,233.0 169.7,233.1 170.5,233.1 171.2,233.2 172.0,233.3 172.7,233.3 173.5,233.3 174.2,233.3 175.0,233.3 175.7,233.1 176.5,233.0 177.2,232.8 178.0,232.6 178.7,232.3 179.5,232.1 180.2,231.8 181.0,231.6 181.7,231.4 182.5,231.2 183.2,231.1 184.0,231.1 184.7,231.1 185.5,231.1 186.3,231.2 187.0,231.3 187.8,231.4 188.5,231.5 189.3,231.6 190.0,231.6 190.8,231.6 191.5,231.6 192.3,231.6 193.0,231.6 193.8,231.6 194.5,231.6 195.3,231.6 196.0,231.6 196.8,231.6 197.5,231.6 198.3,231.6 199.0,231.6 199.8,231.6 200.5,231.5 201.3,231.5 202.0,231.4 202.8,231.3 203.6,231.2 204.3,231.2 205.1,231.1 205.8,231.1 206.6,231.0 207.3,230.8 208.1,230.7 208.8,230.5 209.6,230.4 210.3,230.2 211.1,230.1 211.8,230.1 212.6,230.0 213.3,230.0 214.1,229.9 214.8,229.8 215.6,229.7 216.3,229.5 217.1,229.2 217.8,228.9 218.6,228.5 219.3,228.2 220.1,227.8 220.9,227.6 221.6,227.3 222.4,227.2 223.1,227.1 223.9,227.0 224.6,227.1 225.4,227.1 226.1,227.2 226.9,227.4 227.6,227.5 228.4,227.5 229.1,227.6 229.9,227.7 230.6,227.8 231.4,227.9 232.1,228.1 232.9,228.2 233.6,228.4 234.4,228.7 235.1,228.8 235.9,229.0 236.6,229.1 237.4,229.3 238.2,229.4 238.9,229.5 239.7,229.6 240.4,229.8 241.2,229.8 241.9,229.8 242.7,229.9 243.4,229.9 244.2,229.9 244.9,229.9 245.7,229.9 246.4,229.9 247.2,229.9 247.9,229.9 248.7,229.9 249.4,229.8 250.2,229.8 250.9,229.7 251.7,229.5 252.4,229.4 253.2,229.2 254.0,229.1 254.7,228.9 255.5,228.7 256.2,228.6 257.0,228.5 257.7,228.4 258.5,228.3 259.2,228.2 260.0,228.2 260.7,228.1 261.5,228.1 262.2,228.2 263.0,228.2 263.7,228.3 264.5,228.4 265.2,228.4 266.0,228.4 266.7,228.4 267.5,228.4 268.2,228.3 269.0,228.3 269.7,228.2 270.5,228.1 271.3,228.1 272.0,228.1 272.8,228.0 273.5,228.1 274.3,228.1 275.0,228.2 275.8,228.2 276.5,228.3 277.3,228.4 278.0,228.5 278.8,228.5 279.5,228.6 280.3,228.7 281.0,228.7 281.8,228.8 282.5,228.8 283.3,228.9 284.0,229.0 284.8,229.0 285.5,229.1 286.3,229.3 287.0,229.4 287.8,229.5 288.6,229.5 289.3,229.6 290.1,229.5 290.8,229.5 291.6,229.4 292.3,229.3 293.1,229.3 293.8,229.2 294.6,229.2 295.3,229.3 296.1,229.3 296.8,229.4 297.6,229.4 298.3,229.5 299.1,229.5 299.8,229.5 300.6,229.4 301.3,229.3 302.1,229.2 302.8,229.1 303.6,228.9 304.3,228.8 305.1,228.7 305.9,228.6 306.6,228.6 307.4,228.7 308.1,228.8 308.9,228.9 309.6,229.1 310.4,229.2 311.1,229.4 311.9,229.6 312.6,229.6 313.4,229.6 314.1,229.6 314.9,229.5 315.6,229.3 316.4,229.2 317.1,229.0 317.9,228.9 318.6,228.8 319.4,228.7 320.1,228.7 320.9,228.8 321.7,228.8 322.4,228.9 323.2,229.0 323.9,229.1 324.7,229.2 325.4,229.3 326.2,229.3 326.9,229.3 327.7,229.3 328.4,229.4 329.2,229.4 329.9,229.5 330.7,229.6 331.4,229.6 332.2,229.7 332.9,229.8 333.7,229.9 334.4,229.9 335.2,229.9 335.9,229.9 336.7,229.9 337.4,230.0 338.2,230.0" fill="none" stroke="#00ff00" stroke-width="1.5" stroke-linejoin="round" stroke-linecap="round"/>
<path d="M67.6,215.3 C67.8,216.2 68.4,219.1 68.8,220.5 C69.2,221.9 69.4,222.9 69.8,223.6 C70.2,224.3 70.5,224.7 71.2,224.8 C71.9,224.9 73.0,224.1 73.7,224.3 C74.4,224.5 74.9,225.4 75.5,226.0 C76.1,226.6 76.1,227.6 77.3,228.1 C78.5,228.6 80.6,228.7 82.4,229.1 C84.2,229.5 86.5,230.2 88.0,230.3 C89.5,230.4 90.4,229.6 91.6,229.6 C92.8,229.6 93.1,230.1 95.0,230.1 C96.9,230.1 100.2,229.8 102.8,229.5 C105.4,229.2 108.5,228.4 110.6,228.4 C112.7,228.4 113.5,229.2 115.3,229.5 C117.1,229.8 119.2,230.3 121.6,230.4 C123.9,230.5 127.1,230.0 129.4,229.8 C131.7,229.7 133.5,229.5 135.6,229.5 C137.7,229.5 139.5,229.9 141.9,230.0 C144.3,230.1 147.0,230.3 150.0,230.3 C153.0,230.3 156.7,230.2 160.0,230.2 C163.3,230.2 167.5,230.3 170.0,230.2 C172.5,230.1 173.1,230.1 174.8,229.7 C176.5,229.3 178.3,228.7 180.0,228.0 C181.7,227.3 183.3,226.4 184.8,225.3 C186.3,224.2 187.5,222.7 188.8,221.5 C190.1,220.3 191.4,219.1 192.7,218.2 C194.0,217.3 195.4,216.6 196.7,216.3 C198.0,216.0 199.2,216.2 200.5,216.2 C201.8,216.1 203.2,216.2 204.6,216.0 C205.9,215.8 207.5,215.8 208.6,215.2 C209.7,214.6 210.4,213.3 211.0,212.5 C211.6,211.7 211.6,212.1 212.2,210.5 C212.8,208.9 213.7,206.3 214.3,203.2 C214.9,200.1 215.5,196.0 215.9,191.8 C216.3,187.6 216.5,183.5 216.8,178.2 C217.1,172.9 217.2,168.0 217.6,160.0 C218.0,152.0 218.8,140.0 219.3,130.0 C219.8,120.0 220.4,108.3 220.8,100.0 C221.2,91.7 221.6,86.7 222.0,80.0 C222.4,73.3 223.1,65.0 223.5,60.0 C223.9,55.0 224.1,52.6 224.6,50.0 C225.1,47.4 225.8,44.2 226.4,44.2 C227.0,44.2 227.7,47.4 228.1,50.0 C228.5,52.6 228.5,55.0 229.1,60.0 C229.7,65.0 230.7,73.3 231.4,80.0 C232.1,86.7 232.4,91.7 233.3,100.0 C234.2,108.3 235.4,120.0 236.6,130.0 C237.8,140.0 239.9,153.6 240.7,160.0 C241.5,166.4 241.2,165.8 241.6,168.6 C242.0,171.3 242.5,174.0 243.0,176.5 C243.5,179.0 244.2,181.6 244.8,183.6 C245.3,185.6 245.9,187.0 246.5,188.5 C247.1,190.0 247.7,191.1 248.5,192.4 C249.3,193.7 250.7,195.4 251.6,196.2 C252.5,197.0 253.1,197.2 254.1,197.2 C255.1,197.2 256.4,197.0 257.5,196.3 C258.6,195.6 259.8,195.0 261.0,193.1 C262.2,191.2 263.6,188.0 264.8,185.0 C265.9,182.0 267.0,178.1 267.9,175.0 C268.8,171.9 269.5,169.2 270.4,166.2 C271.3,163.3 272.6,159.4 273.5,157.5 C274.4,155.6 274.9,155.2 275.5,154.6 C276.1,154.0 276.6,153.9 277.2,154.0 C277.8,154.1 278.4,154.5 279.0,155.3 C279.6,156.1 280.2,156.6 280.9,158.6 C281.6,160.6 282.4,164.1 283.1,167.5 C283.8,170.9 284.6,175.5 285.3,179.1 C286.0,182.7 286.5,185.7 287.5,189.3 C288.5,193.0 289.8,197.3 291.1,201.0 C292.4,204.7 294.1,208.3 295.5,211.2 C296.9,214.1 298.5,216.4 299.8,218.4 C301.1,220.4 302.2,221.9 303.4,223.2 C304.6,224.5 305.5,225.4 306.8,226.2 C308.1,227.0 310.1,227.8 311.4,228.2 C312.7,228.6 313.7,228.9 314.8,228.9 C315.9,228.9 316.9,228.3 318.2,228.4 C319.5,228.5 321.0,229.4 322.7,229.7 C324.4,230.0 325.8,230.0 328.4,230.2 C331.0,230.4 336.6,230.8 338.2,230.9" fill="none" stroke="#000000" stroke-width="1.5" stroke-linejoin="round" stroke-linecap="round"/>
<path d="M67.4,228.6 68.2,228.4 68.9,228.1 69.7,227.8 70.4,227.6 71.2,227.3 71.9,227.0 72.7,227.0 73.4,226.9 74.2,226.8 74.9,226.8 75.7,226.7 76.4,226.6 77.2,226.8 77.9,227.0 78.7,227.2 79.4,227.4 80.2,227.6 80.9,227.8 81.7,228.0 82.4,228.2 83.2,228.2 83.9,228.2 84.7,228.2 85.5,228.1 86.2,228.1 87.0,228.1 87.7,228.1 88.5,228.1 89.2,228.0 90.0,228.0 90.7,228.0 91.5,228.0 92.2,228.0 93.0,227.9 93.7,227.9 94.5,227.9 95.2,227.9 96.0,227.8 96.7,227.8 97.5,227.7 98.2,227.7 99.0,227.6 99.7,227.5 100.5,227.5 101.2,227.4 102.0,227.4 102.8,227.3 103.5,227.2 104.3,227.2 105.0,227.1 105.8,227.0 106.5,226.9 107.3,226.8 108.0,226.7 108.8,226.6 109.5,226.5 110.3,226.4 111.0,226.5 111.8,226.6 112.5,226.7 113.3,226.8 114.0,226.8 114.8,226.9 115.5,227.0 116.3,227.1 117.0,227.2 117.8,227.2 118.6,227.3 119.3,227.3 120.1,227.3 120.8,227.3 121.6,227.3 122.3,227.3 123.1,227.3 123.8,227.3 124.6,227.4 125.3,227.4 126.1,227.4 126.8,227.4 127.6,227.4 128.3,227.4 129.1,227.4 129.8,227.4 130.6,227.5 131.3,227.5 132.1,227.5 132.8,227.5 133.6,227.5 134.3,227.5 135.1,227.6 135.9,227.6 136.6,227.6 137.4,227.6 138.1,227.6 138.9,227.6 139.6,227.6 140.4,227.6 141.1,227.6 141.9,227.6 142.6,227.6 143.4,227.6 144.1,227.6 144.9,227.5 145.6,227.5 146.4,227.5 147.1,227.5 147.9,227.5 148.6,227.5 149.4,227.5 150.1,227.4 150.9,227.2 151.6,227.0 152.4,226.8 153.2,226.6 153.9,226.8 154.7,226.9 155.4,227.0 156.2,227.1 156.9,227.2 157.7,227.3 158.4,227.4 159.2,227.6 159.9,227.7 160.7,227.8 161.4,227.9 162.2,228.0 162.9,228.1 163.7,228.2 164.4,228.2 165.2,228.2 165.9,228.2 166.7,228.2 167.4,228.2 168.2,228.2 168.9,228.2 169.7,228.2 170.5,228.2 171.2,228.2 172.0,228.2 172.7,228.2 173.5,228.2 174.2,228.2 175.0,228.2 175.7,228.2 176.5,228.2 177.2,228.2 178.0,228.2 178.7,228.2 179.5,228.2 180.2,228.2 181.0,228.2 181.7,228.2 182.5,228.2 183.2,228.1 184.0,228.1 184.7,228.1 185.5,228.1 186.3,228.0 187.0,228.0 187.8,228.0 188.5,228.0 189.3,227.9 190.0,227.9 190.8,227.9 191.5,227.9 192.3,227.8 193.0,227.8 193.8,227.8 194.5,227.8 195.3,227.7 196.0,227.7 196.8,227.7 197.5,227.7 198.3,227.6 199.0,227.8 199.8,227.9 200.5,228.0 201.3,228.1 202.0,228.2 202.8,228.4 203.6,228.5 204.3,228.6 205.1,228.7 205.8,228.7 206.6,228.8 207.3,228.9 208.1,228.9 208.8,229.0 209.6,229.0 210.3,229.0 211.1,228.9 211.8,228.8 212.6,228.7 213.3,228.6 214.1,228.4 214.8,228.1 215.6,227.8 216.3,227.4 217.1,227.0 217.8,226.6 218.6,226.2 219.3,225.8 220.1,225.4 220.9,224.9 221.6,224.5 222.4,224.2 223.1,223.9 223.9,223.6 224.6,223.4 225.4,223.3 226.1,223.3 226.9,223.3 227.6,223.4 228.4,223.6 229.1,223.8 229.9,224.0 230.6,224.3 231.4,224.6 232.1,224.9 232.9,225.3 233.6,225.6 234.4,225.9 235.1,226.3 235.9,226.6 236.6,226.9 237.4,227.2 238.2,227.5 238.9,227.8 239.7,228.0 240.4,228.2 241.2,228.3 241.9,228.4 242.7,228.4 243.4,228.5 244.2,228.5 244.9,228.5 245.7,228.5 246.4,228.5 247.2,228.5 247.9,228.5 248.7,228.5 249.4,228.5 250.2,228.4 250.9,228.4 251.7,228.3 252.4,228.3 253.2,228.2 254.0,228.2 254.7,228.1 255.5,228.0 256.2,228.1 257.0,228.1 257.7,228.1 258.5,228.1 259.2,228.1 260.0,228.1 260.7,228.1 261.5,228.2 262.2,228.2 263.0,228.2 263.7,228.2 264.5,228.2 265.2,228.2 266.0,228.2 266.7,228.2 267.5,228.2 268.2,228.2 269.0,228.1 269.7,228.1 270.5,228.1 271.3,228.1 272.0,228.1 272.8,228.1 273.5,228.1 274.3,228.1 275.0,228.1 275.8,228.1 276.5,228.1 277.3,228.1 278.0,228.0 278.8,228.1 279.5,228.1 280.3,228.1 281.0,228.2 281.8,228.2 282.5,228.2 283.3,228.3 284.0,228.3 284.8,228.3 285.5,228.3 286.3,228.4 287.0,228.4 287.8,228.4 288.6,228.5 289.3,228.5 290.1,228.5 290.8,228.6 291.6,228.6 292.3,228.6 293.1,228.7 293.8,228.7 294.6,228.7 295.3,228.8 296.1,228.8 296.8,228.8 297.6,228.8 298.3,228.8 299.1,228.8 299.8,228.8 300.6,228.8 301.3,228.8 302.1,228.8 302.8,228.8 303.6,228.8 304.3,228.8 305.1,228.8 305.9,228.8 306.6,228.8 307.4,228.8 308.1,228.8 308.9,228.8 309.6,228.8 310.4,228.8 311.1,228.8 311.9,228.8 312.6,228.8 313.4,228.8 314.1,228.8 314.9,228.8 315.6,228.8 316.4,228.8 317.1,228.8 317.9,228.8 318.6,228.8 319.4,228.8 320.1,228.8 320.9,228.9 321.7,228.9 322.4,228.9 323.2,228.9 323.9,228.9 324.7,228.9 325.4,228.9 326.2,229.0 326.9,229.0 327.7,229.0 328.4,229.0 329.2,229.0 329.9,229.0 330.7,229.0 331.4,229.0 332.2,229.0 332.9,228.9 333.7,228.9 334.4,228.8 335.2,228.8 335.9,228.8 336.7,228.7 337.4,228.7 338.2,228.6" fill="none" stroke="#c6c41e" stroke-width="1.6" stroke-linejoin="round" stroke-linecap="round"/>
</g>
<rect x="67.4" y="15.6" width="270.80" height="218.60" fill="none" stroke="#000" stroke-width="1.2"/>
<line x1="112.53" y1="234.2" x2="112.53" y2="238.70" stroke="#000" stroke-width="1.1"/>
<text x="112.53" y="250.3" text-anchor="middle" class="tl">500</text>
<line x1="187.76" y1="234.2" x2="187.76" y2="238.70" stroke="#000" stroke-width="1.1"/>
<text x="187.76" y="250.3" text-anchor="middle" class="tl">600</text>
<line x1="262.98" y1="234.2" x2="262.98" y2="238.70" stroke="#000" stroke-width="1.1"/>
<text x="262.98" y="250.3" text-anchor="middle" class="tl">700</text>
<line x1="338.20" y1="234.2" x2="338.20" y2="238.70" stroke="#000" stroke-width="1.1"/>
<text x="338.20" y="250.3" text-anchor="middle" class="tl">800</text>
<line x1="74.92" y1="234.2" x2="74.92" y2="236.70" stroke="#000" stroke-width="1.1"/>
<line x1="150.14" y1="234.2" x2="150.14" y2="236.70" stroke="#000" stroke-width="1.1"/>
<line x1="225.37" y1="234.2" x2="225.37" y2="236.70" stroke="#000" stroke-width="1.1"/>
<line x1="300.59" y1="234.2" x2="300.59" y2="236.70" stroke="#000" stroke-width="1.1"/>
<line x1="62.90" y1="234.20" x2="67.4" y2="234.20" stroke="#000" stroke-width="1.1"/>
<text x="60.1" y="237.50" text-anchor="end" class="tl">0</text>
<line x1="62.90" y1="194.45" x2="67.4" y2="194.45" stroke="#000" stroke-width="1.1"/>
<text x="60.1" y="197.75" text-anchor="end" class="tl">200</text>
<line x1="62.90" y1="154.71" x2="67.4" y2="154.71" stroke="#000" stroke-width="1.1"/>
<text x="60.1" y="158.01" text-anchor="end" class="tl">400</text>
<line x1="62.90" y1="114.96" x2="67.4" y2="114.96" stroke="#000" stroke-width="1.1"/>
<text x="60.1" y="118.26" text-anchor="end" class="tl">600</text>
<line x1="62.90" y1="75.22" x2="67.4" y2="75.22" stroke="#000" stroke-width="1.1"/>
<text x="60.1" y="78.52" text-anchor="end" class="tl">800</text>
<line x1="62.90" y1="35.47" x2="67.4" y2="35.47" stroke="#000" stroke-width="1.1"/>
<text x="60.1" y="38.77" text-anchor="end" class="tl">1000</text>
<line x1="64.90" y1="214.33" x2="67.4" y2="214.33" stroke="#000" stroke-width="1.1"/>
<line x1="64.90" y1="174.58" x2="67.4" y2="174.58" stroke="#000" stroke-width="1.1"/>
<line x1="64.90" y1="134.84" x2="67.4" y2="134.84" stroke="#000" stroke-width="1.1"/>
<line x1="64.90" y1="95.09" x2="67.4" y2="95.09" stroke="#000" stroke-width="1.1"/>
<line x1="64.90" y1="55.35" x2="67.4" y2="55.35" stroke="#000" stroke-width="1.1"/>
<line x1="64.90" y1="15.60" x2="67.4" y2="15.60" stroke="#000" stroke-width="1.1"/>
<text x="79.3" y="35.6" class="pl">(a)</text>
<text x="203" y="271.6" text-anchor="middle" class="ax">Wavelength (nm)</text>
<text transform="translate(26.6,136.4) rotate(-90)" text-anchor="middle" class="ay">Intensity (a. u.)</text>
<text x="229.7" y="41.6" text-anchor="middle" class="pk">651</text>
<text x="277.7" y="149.3" text-anchor="middle" class="pk">718</text>
<text x="193.5" y="212" text-anchor="middle" class="pk">610</text>
<line x1="267.2" y1="26.00" x2="287.5" y2="26.00" stroke="#8c8c8c" stroke-width="1.4"/>
<text transform="translate(289.7,28.60) scale(0.895,1)" class="lg">dMeDEOS</text>
<line x1="267.2" y1="36.75" x2="287.5" y2="36.75" stroke="#ff0000" stroke-width="1.4"/>
<text transform="translate(289.7,39.35) scale(0.895,1)" class="lg">EtTEOS</text>
<line x1="267.2" y1="47.50" x2="287.5" y2="47.50" stroke="#ff00ff" stroke-width="1.4"/>
<text transform="translate(289.7,50.10) scale(0.895,1)" class="lg">VyTEOS</text>
<line x1="267.2" y1="58.25" x2="287.5" y2="58.25" stroke="#0000ff" stroke-width="1.4"/>
<text transform="translate(289.7,60.85) scale(0.895,1)" class="lg">AllyTMOS</text>
<line x1="267.2" y1="69.00" x2="287.5" y2="69.00" stroke="#00ffff" stroke-width="1.4"/>
<text transform="translate(289.7,71.60) scale(0.895,1)" class="lg">AmTEOS</text>
<line x1="267.2" y1="79.75" x2="287.5" y2="79.75" stroke="#00ff00" stroke-width="1.4"/>
<text transform="translate(289.7,82.35) scale(0.895,1)" class="lg">DoTEOS</text>
<line x1="267.2" y1="90.50" x2="287.5" y2="90.50" stroke="#000000" stroke-width="1.4"/>
<text transform="translate(289.7,93.10) scale(0.895,1)" class="lg">Φ-TEOS</text>
<line x1="267.2" y1="101.25" x2="287.5" y2="101.25" stroke="#c6c41e" stroke-width="1.4"/>
<text transform="translate(289.7,103.85) scale(0.895,1)" class="lg">Blank-b</text>
<g clip-path="url(#cb)">
<path d="M56.6,492.5 57.4,492.4 58.2,492.3 58.9,492.2 59.7,492.0 60.5,491.9 61.3,491.8 62.1,491.7 62.9,491.5 63.6,491.4 64.4,491.3 65.2,491.2 66.0,491.1 66.8,491.1 67.6,491.0 68.3,490.9 69.1,490.9 69.9,490.8 70.7,490.7 71.5,490.7 72.2,490.6 73.0,490.6 73.8,490.5 74.6,490.4 75.4,490.4 76.2,490.3 76.9,490.2 77.7,490.2 78.5,490.1 79.3,490.1 80.1,490.0 80.8,489.9 81.6,489.8 82.4,489.7 83.2,489.6 84.0,489.5 84.8,489.4 85.5,489.2 86.3,489.1 87.1,489.0 87.9,488.9 88.7,488.8 89.5,488.7 90.2,488.6 91.0,488.5 91.8,488.4 92.6,488.3 93.4,488.2 94.1,488.1 94.9,488.0 95.7,487.9 96.5,487.8 97.3,487.6 98.1,487.6 98.8,487.6 99.6,487.6 100.4,487.6 101.2,487.6 102.0,487.6 102.8,487.6 103.5,487.6 104.3,487.6 105.1,487.6 105.9,487.5 106.7,487.5 107.4,487.4 108.2,487.4 109.0,487.3 109.8,487.3 110.6,487.2 111.4,487.1 112.1,487.1 112.9,487.0 113.7,487.0 114.5,486.9 115.3,486.8 116.0,486.8 116.8,486.7 117.6,486.7 118.4,486.6 119.2,486.6 120.0,486.5 120.7,486.5 121.5,486.6 122.3,486.6 123.1,486.6 123.9,486.6 124.7,486.7 125.4,486.7 126.2,486.7 127.0,486.8 127.8,486.8 128.6,486.8 129.3,486.9 130.1,486.9 130.9,486.9 131.7,486.9 132.5,487.0 133.3,487.0 134.0,487.0 134.8,487.1 135.6,487.1 136.4,487.1 137.2,487.1 138.0,487.2 138.7,487.2 139.5,487.2 140.3,487.3 141.1,487.3 141.9,487.3 142.6,487.3 143.4,487.4 144.2,487.4 145.0,487.3 145.8,487.1 146.6,486.9 147.3,486.8 148.1,486.6 148.9,486.5 149.7,486.3 150.5,486.1 151.2,486.0 152.0,486.1 152.8,486.3 153.6,486.4 154.4,486.5 155.2,486.6 155.9,486.8 156.7,486.9 157.5,487.0 158.3,487.1 159.1,487.3 159.9,487.4 160.6,487.3 161.4,487.3 162.2,487.2 163.0,487.2 163.8,487.1 164.5,487.0 165.3,487.0 166.1,486.9 166.9,486.8 167.7,486.8 168.5,486.7 169.2,486.6 170.0,486.6 170.8,486.5 171.6,486.4 172.4,486.4 173.2,486.4 173.9,486.4 174.7,486.4 175.5,486.4 176.3,486.4 177.1,486.4 177.8,486.4 178.6,486.4 179.4,486.4 180.2,486.4 181.0,486.4 181.8,486.4 182.5,486.4 183.3,486.4 184.1,486.4 184.9,486.4 185.7,486.4 186.4,486.4 187.2,486.4 188.0,486.4 188.8,486.4 189.6,486.4 190.4,486.4 191.1,486.4 191.9,486.4 192.7,486.5 193.5,486.5 194.3,486.5 195.1,486.5 195.8,486.5 196.6,486.5 197.4,486.5 198.2,486.5 199.0,486.5 199.7,486.5 200.5,486.5 201.3,486.6 202.1,486.6 202.9,486.5 203.7,486.4 204.4,486.3 205.2,486.0 206.0,485.6 206.8,485.1 207.6,484.3 208.4,483.3 209.1,482.0 209.9,480.3 210.7,478.2 211.5,475.6 212.3,472.5 213.0,469.0 213.8,464.9 214.6,460.5 215.4,455.7 216.2,450.8 217.0,445.9 217.7,441.1 218.5,436.7 219.3,432.9 220.1,429.8 220.9,427.8 221.6,426.8 222.4,426.9 223.2,427.5 224.0,428.5 224.8,430.0 225.6,431.8 226.3,433.9 227.1,436.2 227.9,438.6 228.7,441.1 229.5,443.7 230.3,446.2 231.0,448.7 231.8,451.1 232.6,453.4 233.4,455.6 234.2,457.6 234.9,459.6 235.7,461.4 236.5,463.1 237.3,464.7 238.1,466.1 238.9,467.4 239.6,468.6 240.4,469.7 241.2,470.7 242.0,471.6 242.8,472.5 243.6,473.2 244.3,473.8 245.1,474.4 245.9,474.9 246.7,475.3 247.5,475.6 248.2,475.9 249.0,476.1 249.8,476.2 250.6,476.3 251.4,476.1 252.2,475.9 252.9,475.6 253.7,475.3 254.5,474.9 255.3,474.4 256.1,473.9 256.8,473.3 257.6,472.6 258.4,471.9 259.2,471.2 260.0,470.4 260.8,469.5 261.5,468.6 262.3,467.7 263.1,466.7 263.9,465.7 264.7,464.7 265.5,463.7 266.2,462.6 267.0,461.6 267.8,460.7 268.6,459.8 269.4,459.0 270.1,458.3 270.9,457.7 271.7,457.2 272.5,456.9 273.3,456.8 274.1,456.8 274.8,457.0 275.6,457.4 276.4,458.0 277.2,458.8 278.0,459.7 278.8,460.7 279.5,461.8 280.3,463.0 281.1,464.2 281.9,465.5 282.7,466.8 283.4,468.1 284.2,469.3 285.0,470.6 285.8,471.7 286.6,472.9 287.4,474.0 288.1,475.0 288.9,476.0 289.7,477.0 290.5,477.9 291.3,478.7 292.0,479.5 292.8,480.2 293.6,480.9 294.4,481.6 295.2,482.2 296.0,482.7 296.7,483.2 297.5,483.7 298.3,484.2 299.1,484.6 299.9,484.9 300.7,485.3 301.4,485.6 302.2,485.9 303.0,486.2 303.8,486.4 304.6,486.6 305.3,486.8 306.1,486.9 306.9,486.9 307.7,486.9 308.5,486.9 309.3,486.9 310.0,486.9 310.8,486.8 311.6,486.8 312.4,486.7 313.2,486.7 314.0,486.6 314.7,486.5 315.5,486.4 316.3,486.6 317.1,487.0 317.9,487.3 318.6,487.6 319.4,488.0 320.2,488.3 321.0,488.6 321.8,488.8 322.6,489.0 323.3,489.1 324.1,489.3 324.9,489.5 325.7,489.6 326.5,489.8 327.2,490.0 328.0,490.1 328.8,490.3 329.6,490.4 330.4,490.5 331.2,490.6 331.9,490.6 332.7,490.7 333.5,490.7 334.3,490.8 335.1,490.8 335.9,490.9 336.6,490.9 337.4,491.0 338.2,491.0" fill="none" stroke="#7a7a7a" stroke-width="1.65" stroke-linejoin="round" stroke-linecap="round"/>
<path d="M56.6,491.0 57.4,490.7 58.2,490.4 58.9,490.1 59.7,489.8 60.5,489.5 61.3,489.2 62.1,488.8 62.9,488.5 63.6,488.3 64.4,488.1 65.2,487.9 66.0,487.7 66.8,487.5 67.6,487.4 68.3,487.5 69.1,487.8 69.9,488.0 70.7,488.3 71.5,488.6 72.2,488.9 73.0,489.2 73.8,489.5 74.6,489.8 75.4,490.1 76.2,490.4 76.9,490.5 77.7,490.4 78.5,490.4 79.3,490.3 80.1,490.3 80.8,490.3 81.6,490.2 82.4,490.1 83.2,489.9 84.0,489.7 84.8,489.5 85.5,489.3 86.3,489.1 87.1,488.9 87.9,488.7 88.7,488.4 89.5,488.2 90.2,488.0 91.0,487.8 91.8,487.6 92.6,487.5 93.4,487.4 94.1,487.4 94.9,487.3 95.7,487.6 96.5,487.9 97.3,488.2 98.1,488.3 98.8,488.4 99.6,488.5 100.4,488.6 101.2,488.6 102.0,488.7 102.8,488.8 103.5,488.9 104.3,488.9 105.1,489.0 105.9,489.0 106.7,489.0 107.4,489.0 108.2,489.1 109.0,489.1 109.8,489.1 110.6,489.1 111.4,489.0 112.1,489.0 112.9,489.0 113.7,488.9 114.5,488.9 115.3,488.9 116.0,488.8 116.8,488.8 117.6,488.8 118.4,488.7 119.2,488.8 120.0,488.9 120.7,489.1 121.5,489.2 122.3,489.4 123.1,489.5 123.9,489.7 124.7,489.8 125.4,490.0 126.2,490.2 127.0,490.4 127.8,490.7 128.6,490.9 129.3,491.2 130.1,491.4 130.9,491.6 131.7,491.4 132.5,491.2 133.3,491.0 134.0,490.8 134.8,490.6 135.6,490.4 136.4,490.2 137.2,490.0 138.0,489.8 138.7,489.6 139.5,489.4 140.3,489.3 141.1,489.1 141.9,489.3 142.6,489.5 143.4,489.7 144.2,489.9 145.0,490.1 145.8,490.3 146.6,490.5 147.3,490.7 148.1,490.9 148.9,491.1 149.7,491.3 150.5,491.4 151.2,491.6 152.0,491.4 152.8,491.3 153.6,491.2 154.4,491.0 155.2,490.9 155.9,490.7 156.7,490.6 157.5,490.5 158.3,490.3 159.1,490.2 159.9,490.0 160.6,490.0 161.4,490.1 162.2,490.2 163.0,490.2 163.8,490.3 164.5,490.3 165.3,490.4 166.1,490.4 166.9,490.5 167.7,490.5 168.5,490.6 169.2,490.6 170.0,490.7 170.8,490.7 171.6,490.8 172.4,490.8 173.2,490.9 173.9,490.9 174.7,491.0 175.5,491.0 176.3,491.1 177.1,491.1 177.8,491.2 178.6,491.3 179.4,491.3 180.2,491.4 181.0,491.4 181.8,491.5 182.5,491.5 183.3,491.6 184.1,491.6 184.9,491.7 185.7,491.7 186.4,491.8 187.2,491.8 188.0,491.9 188.8,491.9 189.6,492.0 190.4,492.0 191.1,492.1 191.9,492.1 192.7,492.2 193.5,492.3 194.3,492.3 195.1,492.4 195.8,492.4 196.6,492.5 197.4,492.5 198.2,492.8 199.0,493.2 199.7,493.7 200.5,494.0 201.3,494.4 202.1,494.7 202.9,495.0 203.7,494.8 204.4,494.4 205.2,493.9 206.0,493.3 206.8,492.5 207.6,491.5 208.4,490.2 209.1,488.7 209.9,486.9 210.7,484.8 211.5,482.3 212.3,479.5 213.0,476.5 213.8,473.1 214.6,469.6 215.4,465.9 216.2,462.2 217.0,458.5 217.7,455.1 218.5,452.0 219.3,449.3 220.1,447.2 220.9,445.8 221.6,445.1 222.4,445.2 223.2,446.1 224.0,447.7 224.8,449.9 225.6,452.5 226.3,455.3 227.1,458.3 227.9,461.2 228.7,464.1 229.5,466.7 230.3,469.2 231.0,471.5 231.8,473.6 232.6,475.5 233.4,477.2 234.2,478.7 234.9,480.0 235.7,481.2 236.5,482.3 237.3,483.2 238.1,484.0 238.9,484.7 239.6,485.3 240.4,485.8 241.2,486.3 242.0,486.7 242.8,487.0 243.6,487.2 244.3,487.4 245.1,487.6 245.9,487.7 246.7,487.8 247.5,487.8 248.2,487.7 249.0,487.8 249.8,487.9 250.6,487.9 251.4,488.0 252.2,488.0 252.9,487.9 253.7,487.8 254.5,487.7 255.3,487.6 256.1,487.4 256.8,487.2 257.6,487.0 258.4,486.7 259.2,486.4 260.0,486.0 260.8,485.6 261.5,485.0 262.3,484.5 263.1,483.8 263.9,483.2 264.7,482.6 265.5,482.0 266.2,481.3 267.0,480.7 267.8,480.2 268.6,479.6 269.4,479.2 270.1,478.8 270.9,478.5 271.7,478.4 272.5,478.3 273.3,478.4 274.1,478.6 274.8,478.9 275.6,479.2 276.4,479.7 277.2,480.1 278.0,480.7 278.8,481.3 279.5,481.9 280.3,482.7 281.1,483.4 281.9,484.2 282.7,485.1 283.4,486.0 284.2,486.9 285.0,487.8 285.8,488.8 286.6,489.8 287.4,490.8 288.1,491.8 288.9,492.8 289.7,493.6 290.5,494.3 291.3,495.0 292.0,495.6 292.8,496.3 293.6,496.9 294.4,497.5 295.2,498.1 296.0,498.4 296.7,498.6 297.5,498.9 298.3,499.1 299.1,499.3 299.9,499.4 300.7,499.6 301.4,499.7 302.2,499.8 303.0,499.8 303.8,499.8 304.6,499.8 305.3,499.8 306.1,499.7 306.9,499.6 307.7,499.5 308.5,499.3 309.3,499.2 310.0,499.0 310.8,499.2 311.6,499.3 312.4,499.5 313.2,499.6 314.0,499.7 314.7,499.7 315.5,499.8 316.3,499.9 317.1,499.9 317.9,499.9 318.6,500.0 319.4,500.0 320.2,500.0 321.0,500.0 321.8,500.0 322.6,499.9 323.3,499.9 324.1,499.9 324.9,499.9 325.7,499.8 326.5,499.8 327.2,499.7 328.0,499.7 328.8,499.7 329.6,499.6 330.4,499.6 331.2,499.5 331.9,499.5 332.7,499.4 333.5,499.3 334.3,499.3 335.1,499.2 335.9,499.2 336.6,499.1 337.4,499.1 338.2,499.0" fill="none" stroke="#ff0000" stroke-width="1.65" stroke-linejoin="round" stroke-linecap="round"/>
<path d="M56.6,487.5 57.4,487.3 58.2,487.0 58.9,486.6 59.7,486.3 60.5,486.0 61.3,485.7 62.1,485.4 62.9,485.1 63.6,484.8 64.4,484.6 65.2,484.4 66.0,484.2 66.8,484.0 67.6,483.8 68.3,483.6 69.1,483.4 69.9,483.4 70.7,483.3 71.5,483.3 72.2,483.3 73.0,483.2 73.8,483.2 74.6,483.2 75.4,483.1 76.2,483.1 76.9,482.9 77.7,482.6 78.5,482.3 79.3,482.0 80.1,481.7 80.8,481.4 81.6,481.1 82.4,480.9 83.2,480.6 84.0,480.3 84.8,480.1 85.5,479.9 86.3,479.6 87.1,479.4 87.9,479.2 88.7,478.9 89.5,478.8 90.2,478.7 91.0,478.7 91.8,478.6 92.6,478.6 93.4,478.5 94.1,478.4 94.9,478.4 95.7,478.5 96.5,478.6 97.3,478.6 98.1,478.7 98.8,478.8 99.6,478.9 100.4,478.9 101.2,479.0 102.0,479.1 102.8,479.2 103.5,479.2 104.3,479.3 105.1,479.4 105.9,479.5 106.7,479.5 107.4,479.6 108.2,479.7 109.0,479.7 109.8,479.6 110.6,479.5 111.4,479.4 112.1,479.4 112.9,479.3 113.7,479.2 114.5,479.1 115.3,479.1 116.0,479.0 116.8,478.9 117.6,479.0 118.4,479.0 119.2,479.1 120.0,479.2 120.7,479.2 121.5,479.3 122.3,479.4 123.1,479.5 123.9,479.5 124.7,479.6 125.4,479.7 126.2,479.6 127.0,479.6 127.8,479.5 128.6,479.4 129.3,479.3 130.1,479.3 130.9,479.2 131.7,479.1 132.5,479.1 133.3,479.0 134.0,478.9 134.8,479.0 135.6,479.0 136.4,479.1 137.2,479.2 138.0,479.3 138.7,479.3 139.5,479.4 140.3,479.5 141.1,479.6 141.9,479.6 142.6,479.7 143.4,479.8 144.2,479.9 145.0,480.0 145.8,480.0 146.6,480.1 147.3,480.2 148.1,480.3 148.9,480.4 149.7,480.5 150.5,480.5 151.2,480.6 152.0,480.9 152.8,481.1 153.6,481.3 154.4,481.5 155.2,481.7 155.9,482.0 156.7,482.2 157.5,482.4 158.3,482.6 159.1,482.8 159.9,483.1 160.6,483.2 161.4,483.3 162.2,483.4 163.0,483.5 163.8,483.6 164.5,483.7 165.3,483.8 166.1,483.9 166.9,484.0 167.7,484.1 168.5,484.2 169.2,484.3 170.0,484.4 170.8,484.5 171.6,484.6 172.4,484.7 173.2,484.8 173.9,484.8 174.7,484.9 175.5,484.9 176.3,485.0 177.1,485.0 177.8,485.1 178.6,485.1 179.4,485.2 180.2,485.2 181.0,485.3 181.8,485.3 182.5,485.3 183.3,485.4 184.1,485.4 184.9,485.5 185.7,485.5 186.4,485.6 187.2,485.6 188.0,485.6 188.8,485.7 189.6,485.7 190.4,485.7 191.1,485.7 191.9,485.7 192.7,485.7 193.5,485.8 194.3,485.8 195.1,485.8 195.8,485.8 196.6,485.8 197.4,485.8 198.2,485.7 199.0,485.7 199.7,485.6 200.5,485.5 201.3,485.3 202.1,485.1 202.9,484.8 203.7,484.5 204.4,484.2 205.2,483.7 206.0,483.2 206.8,482.4 207.6,481.3 208.4,479.9 209.1,478.1 209.9,475.9 210.7,473.2 211.5,469.9 212.3,466.0 213.0,461.6 213.8,456.7 214.6,451.4 215.4,445.7 216.2,439.8 217.0,433.9 217.7,428.3 218.5,423.1 219.3,418.7 220.1,415.1 220.9,412.8 221.6,411.6 222.4,411.8 223.2,412.7 224.0,414.5 224.8,416.8 225.6,419.7 226.3,423.0 227.1,426.5 227.9,430.2 228.7,433.9 229.5,437.5 230.3,441.0 231.0,444.3 231.8,447.5 232.6,450.4 233.4,453.1 234.2,455.7 234.9,458.0 235.7,460.1 236.5,462.1 237.3,463.9 238.1,465.5 238.9,467.0 239.6,468.3 240.4,469.5 241.2,470.6 242.0,471.6 242.8,472.5 243.6,473.3 244.3,474.1 245.1,474.7 245.9,475.3 246.7,475.8 247.5,476.3 248.2,476.7 249.0,477.0 249.8,477.3 250.6,477.5 251.4,477.7 252.2,477.8 252.9,477.8 253.7,477.8 254.5,477.7 255.3,477.6 256.1,477.4 256.8,477.2 257.6,476.9 258.4,476.6 259.2,476.2 260.0,475.7 260.8,475.2 261.5,474.6 262.3,474.0 263.1,473.3 263.9,472.5 264.7,471.6 265.5,470.7 266.2,469.7 267.0,468.7 267.8,467.6 268.6,466.5 269.4,465.4 270.1,464.4 270.9,463.3 271.7,462.3 272.5,461.5 273.3,460.8 274.1,460.3 274.8,459.9 275.6,459.9 276.4,460.0 277.2,460.3 278.0,460.7 278.8,461.4 279.5,462.1 280.3,463.0 281.1,463.9 281.9,465.0 282.7,466.1 283.4,467.2 284.2,468.4 285.0,469.6 285.8,470.8 286.6,472.0 287.4,473.2 288.1,474.3 288.9,475.4 289.7,476.5 290.5,477.6 291.3,478.6 292.0,479.5 292.8,480.4 293.6,481.2 294.4,482.0 295.2,482.8 296.0,483.4 296.7,484.1 297.5,484.7 298.3,485.2 299.1,485.7 299.9,486.2 300.7,486.6 301.4,487.0 302.2,487.4 303.0,487.7 303.8,488.0 304.6,488.3 305.3,488.5 306.1,488.8 306.9,489.0 307.7,489.2 308.5,489.4 309.3,489.5 310.0,489.7 310.8,489.8 311.6,490.0 312.4,490.1 313.2,490.2 314.0,490.4 314.7,490.5 315.5,490.4 316.3,490.2 317.1,490.1 317.9,489.9 318.6,489.7 319.4,489.5 320.2,489.5 321.0,489.7 321.8,489.9 322.6,490.1 323.3,490.3 324.1,490.5 324.9,490.7 325.7,490.9 326.5,491.1 327.2,491.3 328.0,491.5 328.8,491.5 329.6,491.5 330.4,491.5 331.2,491.5 331.9,491.5 332.7,491.5 333.5,491.5 334.3,491.5 335.1,491.5 335.9,491.5 336.6,491.5 337.4,491.5 338.2,491.5" fill="none" stroke="#ff00ff" stroke-width="1.65" stroke-linejoin="round" stroke-linecap="round"/>
<path d="M56.6,492.3 57.4,492.0 58.2,491.6 58.9,491.2 59.7,490.9 60.5,490.5 61.3,490.1 62.1,489.7 62.9,489.6 63.6,489.4 64.4,489.2 65.2,489.1 66.0,488.9 66.8,488.8 67.6,488.6 68.3,488.5 69.1,488.3 69.9,488.2 70.7,488.2 71.5,488.1 72.2,488.0 73.0,487.9 73.8,487.8 74.6,487.8 75.4,487.7 76.2,487.6 76.9,487.5 77.7,487.3 78.5,487.2 79.3,487.0 80.1,486.9 80.8,486.7 81.6,486.5 82.4,486.4 83.2,486.2 84.0,486.1 84.8,485.9 85.5,485.8 86.3,485.6 87.1,485.5 87.9,485.3 88.7,485.2 89.5,485.0 90.2,484.9 91.0,484.7 91.8,484.5 92.6,484.4 93.4,484.2 94.1,484.1 94.9,483.9 95.7,483.8 96.5,483.6 97.3,483.5 98.1,483.3 98.8,483.2 99.6,483.1 100.4,482.9 101.2,482.8 102.0,482.7 102.8,482.6 103.5,482.4 104.3,482.3 105.1,482.2 105.9,482.2 106.7,482.2 107.4,482.3 108.2,482.3 109.0,482.3 109.8,482.3 110.6,482.4 111.4,482.4 112.1,482.4 112.9,482.5 113.7,482.5 114.5,482.5 115.3,482.5 116.0,482.6 116.8,482.6 117.6,482.6 118.4,482.7 119.2,482.7 120.0,482.8 120.7,482.8 121.5,482.9 122.3,482.9 123.1,483.0 123.9,483.0 124.7,483.0 125.4,483.1 126.2,483.2 127.0,483.2 127.8,483.3 128.6,483.4 129.3,483.5 130.1,483.6 130.9,483.7 131.7,483.7 132.5,483.8 133.3,483.9 134.0,484.0 134.8,483.9 135.6,483.8 136.4,483.8 137.2,483.7 138.0,483.6 138.7,483.5 139.5,483.4 140.3,483.3 141.1,483.3 141.9,483.2 142.6,483.1 143.4,483.1 144.2,483.2 145.0,483.2 145.8,483.3 146.6,483.3 147.3,483.4 148.1,483.4 148.9,483.5 149.7,483.5 150.5,483.6 151.2,483.6 152.0,483.6 152.8,483.7 153.6,483.7 154.4,483.8 155.2,483.8 155.9,483.8 156.7,483.9 157.5,483.9 158.3,483.9 159.1,484.0 159.9,484.0 160.6,484.1 161.4,484.3 162.2,484.4 163.0,484.6 163.8,484.7 164.5,484.9 165.3,485.1 166.1,485.2 166.9,485.4 167.7,485.5 168.5,485.7 169.2,485.7 170.0,485.7 170.8,485.8 171.6,485.8 172.4,485.8 173.2,485.8 173.9,485.8 174.7,485.9 175.5,485.9 176.3,485.9 177.1,485.9 177.8,485.9 178.6,485.9 179.4,486.0 180.2,486.0 181.0,486.0 181.8,486.0 182.5,486.1 183.3,486.2 184.1,486.4 184.9,486.6 185.7,486.8 186.4,487.0 187.2,487.2 188.0,487.3 188.8,487.5 189.6,487.7 190.4,487.9 191.1,488.1 191.9,488.2 192.7,488.1 193.5,488.0 194.3,487.9 195.1,487.8 195.8,487.6 196.6,487.5 197.4,487.2 198.2,487.0 199.0,486.7 199.7,486.5 200.5,486.3 201.3,486.1 202.1,485.8 202.9,485.4 203.7,484.8 204.4,484.0 205.2,483.0 206.0,481.7 206.8,480.0 207.6,477.8 208.4,475.1 209.1,471.7 209.9,467.6 210.7,462.6 211.5,456.9 212.3,450.3 213.0,442.9 213.8,434.8 214.6,426.1 215.4,416.9 216.2,407.7 217.0,398.5 217.7,389.8 218.5,381.9 219.3,375.1 220.1,369.7 220.9,366.1 221.6,364.3 222.4,364.5 223.2,366.0 224.0,368.8 224.8,372.7 225.6,377.5 226.3,383.0 227.1,388.8 227.9,394.8 228.7,400.8 229.5,406.7 230.3,412.4 231.0,417.8 231.8,422.8 232.6,427.5 233.4,431.9 234.2,435.9 234.9,439.5 235.7,442.8 236.5,445.9 237.3,448.6 238.1,451.1 238.9,453.3 239.6,455.4 240.4,457.2 241.2,458.8 242.0,460.3 242.8,461.6 243.6,462.7 244.3,463.7 245.1,464.6 245.9,465.4 246.7,466.0 247.5,466.6 248.2,467.0 249.0,467.4 249.8,467.6 250.6,467.8 251.4,467.9 252.2,467.9 252.9,467.8 253.7,467.6 254.5,467.4 255.3,467.0 256.1,466.5 256.8,465.9 257.6,465.2 258.4,464.4 259.2,463.5 260.0,462.5 260.8,461.3 261.5,460.0 262.3,458.6 263.1,457.1 263.9,455.4 264.7,453.7 265.5,451.9 266.2,450.0 267.0,448.1 267.8,446.3 268.6,444.5 269.4,442.9 270.1,441.4 270.9,440.3 271.7,439.5 272.5,439.1 273.3,439.1 274.1,439.5 274.8,440.3 275.6,441.5 276.4,442.9 277.2,444.6 278.0,446.5 278.8,448.5 279.5,450.6 280.3,452.8 281.1,455.0 281.9,457.2 282.7,459.3 283.4,461.3 284.2,463.3 285.0,465.2 285.8,467.0 286.6,468.7 287.4,470.3 288.1,471.8 288.9,473.2 289.7,474.5 290.5,475.7 291.3,476.9 292.0,477.9 292.8,478.9 293.6,479.8 294.4,480.6 295.2,481.4 296.0,482.1 296.7,482.8 297.5,483.4 298.3,484.0 299.1,484.5 299.9,485.0 300.7,485.4 301.4,485.8 302.2,486.2 303.0,486.6 303.8,487.0 304.6,487.3 305.3,487.6 306.1,487.9 306.9,488.2 307.7,488.5 308.5,488.7 309.3,489.0 310.0,489.2 310.8,489.4 311.6,489.7 312.4,489.9 313.2,490.1 314.0,490.3 314.7,490.4 315.5,490.5 316.3,490.6 317.1,490.6 317.9,490.7 318.6,490.8 319.4,490.9 320.2,490.9 321.0,491.0 321.8,491.0 322.6,491.1 323.3,491.2 324.1,491.2 324.9,491.3 325.7,491.3 326.5,491.4 327.2,491.5 328.0,491.5 328.8,491.6 329.6,491.6 330.4,491.6 331.2,491.7 331.9,491.7 332.7,491.8 333.5,491.8 334.3,491.8 335.1,491.9 335.9,491.9 336.6,491.9 337.4,492.0 338.2,492.0" fill="none" stroke="#0000ff" stroke-width="1.65" stroke-linejoin="round" stroke-linecap="round"/>
<path d="M56.6,472.0 57.4,472.5 58.2,473.1 58.9,473.1 59.7,472.3 60.5,471.5 61.3,470.7 62.1,469.9 62.9,469.5 63.6,469.1 64.4,468.7 65.2,468.3 66.0,467.9 66.8,467.6 67.6,467.3 68.3,467.1 69.1,466.8 69.9,466.6 70.7,467.1 71.5,467.6 72.2,468.1 73.0,468.7 73.8,469.6 74.6,470.6 75.4,471.6 76.2,472.5 76.9,473.3 77.7,474.1 78.5,474.9 79.3,475.7 80.1,476.2 80.8,475.9 81.6,475.6 82.4,475.2 83.2,474.9 84.0,475.0 84.8,475.2 85.5,475.4 86.3,475.6 87.1,475.8 87.9,476.0 88.7,475.9 89.5,475.8 90.2,475.7 91.0,475.7 91.8,475.6 92.6,475.5 93.4,476.1 94.1,476.7 94.9,477.4 95.7,478.0 96.5,478.5 97.3,478.9 98.1,479.3 98.8,479.7 99.6,480.1 100.4,480.5 101.2,480.6 102.0,480.7 102.8,480.9 103.5,481.0 104.3,481.1 105.1,481.2 105.9,481.3 106.7,481.3 107.4,481.3 108.2,481.4 109.0,481.4 109.8,481.3 110.6,481.2 111.4,481.1 112.1,481.1 112.9,481.0 113.7,480.9 114.5,480.8 115.3,480.8 116.0,480.7 116.8,480.6 117.6,480.7 118.4,480.7 119.2,480.8 120.0,480.9 120.7,480.9 121.5,481.0 122.3,481.1 123.1,481.2 123.9,481.2 124.7,481.3 125.4,481.4 126.2,481.3 127.0,481.3 127.8,481.2 128.6,481.1 129.3,481.0 130.1,481.0 130.9,480.9 131.7,480.8 132.5,480.8 133.3,480.7 134.0,480.6 134.8,480.5 135.6,480.3 136.4,480.2 137.2,480.1 138.0,480.0 138.7,479.8 139.5,479.7 140.3,479.6 141.1,479.4 141.9,479.3 142.6,479.2 143.4,479.0 144.2,478.9 145.0,479.0 145.8,479.2 146.6,479.3 147.3,479.5 148.1,479.6 148.9,479.8 149.7,479.9 150.5,480.1 151.2,480.2 152.0,480.2 152.8,480.3 153.6,480.3 154.4,480.3 155.2,480.4 155.9,480.4 156.7,480.5 157.5,480.5 158.3,480.5 159.1,480.6 159.9,480.6 160.6,480.6 161.4,480.6 162.2,480.6 163.0,480.6 163.8,480.6 164.5,480.6 165.3,480.6 166.1,480.5 166.9,480.4 167.7,480.3 168.5,480.3 169.2,480.2 170.0,480.1 170.8,480.0 171.6,479.9 172.4,479.8 173.2,479.8 173.9,479.7 174.7,479.6 175.5,479.5 176.3,479.6 177.1,479.8 177.8,479.9 178.6,480.0 179.4,480.2 180.2,480.3 181.0,480.4 181.8,480.6 182.5,480.7 183.3,480.8 184.1,480.9 184.9,481.1 185.7,481.2 186.4,481.1 187.2,481.0 188.0,480.8 188.8,480.7 189.6,480.6 190.4,480.4 191.1,480.0 191.9,479.6 192.7,479.2 193.5,478.8 194.3,478.7 195.1,478.7 195.8,478.6 196.6,478.5 197.4,478.4 198.2,478.4 199.0,478.5 199.7,478.6 200.5,478.7 201.3,478.8 202.1,478.8 202.9,478.6 203.7,478.3 204.4,478.1 205.2,477.9 206.0,477.8 206.8,477.5 207.6,477.1 208.4,476.4 209.1,475.5 209.9,474.4 210.7,472.8 211.5,470.9 212.3,468.5 213.0,465.7 213.8,462.4 214.6,458.7 215.4,454.7 216.2,450.4 217.0,446.1 217.7,441.9 218.5,438.0 219.3,434.5 220.1,431.8 220.9,430.0 221.6,429.2 222.4,429.3 223.2,429.8 224.0,430.7 224.8,431.9 225.6,433.4 226.3,435.1 227.1,437.0 227.9,439.0 228.7,441.1 229.5,443.3 230.3,445.4 231.0,447.5 231.8,449.6 232.6,451.6 233.4,453.5 234.2,455.3 234.9,457.1 235.7,458.7 236.5,460.3 237.3,461.7 238.1,463.1 238.9,464.3 239.6,465.5 240.4,466.6 241.2,467.6 242.0,468.5 242.8,469.4 243.6,470.2 244.3,470.9 245.1,471.6 245.9,472.2 246.7,472.7 247.5,473.2 248.2,473.1 249.0,472.8 249.8,472.5 250.6,472.1 251.4,471.6 252.2,471.1 252.9,470.6 253.7,470.8 254.5,471.3 255.3,471.8 256.1,472.2 256.8,472.6 257.6,472.9 258.4,473.2 259.2,473.2 260.0,472.8 260.8,472.3 261.5,471.7 262.3,471.1 263.1,470.5 263.9,469.7 264.7,468.9 265.5,468.1 266.2,467.2 267.0,466.3 267.8,465.4 268.6,464.6 269.4,463.7 270.1,463.0 270.9,462.3 271.7,461.8 272.5,461.5 273.3,461.4 274.1,461.5 274.8,461.8 275.6,462.3 276.4,463.1 277.2,464.0 278.0,465.1 278.8,466.4 279.5,467.7 280.3,468.7 281.1,469.5 281.9,470.3 282.7,471.0 283.4,471.3 284.2,471.6 285.0,471.9 285.8,472.5 286.6,473.2 287.4,473.9 288.1,474.5 288.9,475.2 289.7,476.1 290.5,477.0 291.3,477.7 292.0,478.4 292.8,479.0 293.6,479.9 294.4,480.8 295.2,481.6 296.0,482.3 296.7,483.0 297.5,483.7 298.3,484.3 299.1,485.0 299.9,485.5 300.7,486.0 301.4,486.1 302.2,486.2 303.0,486.2 303.8,486.3 304.6,486.3 305.3,486.4 306.1,486.4 306.9,486.4 307.7,486.1 308.5,485.6 309.3,485.1 310.0,484.5 310.8,484.0 311.6,483.4 312.4,482.6 313.2,481.8 314.0,481.0 314.7,481.6 315.5,482.4 316.3,483.2 317.1,484.6 317.9,486.4 318.6,488.1 319.4,489.5 320.2,489.7 321.0,490.0 321.8,490.3 322.6,490.5 323.3,490.8 324.1,491.0 324.9,491.1 325.7,491.0 326.5,491.0 327.2,491.0 328.0,490.9 328.8,490.9 329.6,490.9 330.4,490.8 331.2,490.8 331.9,490.9 332.7,491.1 333.5,491.2 334.3,491.3 335.1,491.5 335.9,491.6 336.6,491.7 337.4,491.9 338.2,492.0" fill="none" stroke="#00ffff" stroke-width="1.65" stroke-linejoin="round" stroke-linecap="round"/>
<path d="M56.6,492.6 57.4,492.4 58.2,492.2 58.9,492.0 59.7,491.8 60.5,491.6 61.3,491.4 62.1,491.2 62.9,491.3 63.6,491.5 64.4,491.7 65.2,491.8 66.0,492.0 66.8,492.1 67.6,492.3 68.3,492.4 69.1,492.6 69.9,492.6 70.7,492.6 71.5,492.6 72.2,492.6 73.0,492.6 73.8,492.6 74.6,492.6 75.4,492.6 76.2,492.6 76.9,492.6 77.7,492.6 78.5,492.6 79.3,492.6 80.1,492.6 80.8,492.6 81.6,492.6 82.4,492.6 83.2,492.6 84.0,492.6 84.8,492.6 85.5,492.7 86.3,492.7 87.1,492.7 87.9,492.7 88.7,492.8 89.5,492.8 90.2,492.8 91.0,492.8 91.8,492.8 92.6,492.9 93.4,492.9 94.1,492.9 94.9,492.9 95.7,492.9 96.5,493.0 97.3,493.0 98.1,492.7 98.8,492.3 99.6,491.8 100.4,491.6 101.2,491.6 102.0,491.6 102.8,491.6 103.5,491.6 104.3,491.6 105.1,491.6 105.9,491.6 106.7,491.6 107.4,491.6 108.2,491.6 109.0,491.6 109.8,491.6 110.6,491.6 111.4,491.6 112.1,491.6 112.9,491.6 113.7,491.6 114.5,491.6 115.3,491.6 116.0,491.6 116.8,491.6 117.6,491.5 118.4,491.5 119.2,491.4 120.0,491.3 120.7,491.3 121.5,491.2 122.3,491.1 123.1,491.0 123.9,491.0 124.7,490.9 125.4,490.8 126.2,490.8 127.0,490.9 127.8,490.9 128.6,491.0 129.3,491.0 130.1,491.1 130.9,491.1 131.7,491.2 132.5,491.2 133.3,491.2 134.0,491.3 134.8,491.3 135.6,491.4 136.4,491.4 137.2,491.5 138.0,491.5 138.7,491.5 139.5,491.6 140.3,491.6 141.1,491.7 141.9,491.7 142.6,491.8 143.4,491.8 144.2,491.8 145.0,491.9 145.8,491.9 146.6,492.0 147.3,492.0 148.1,492.0 148.9,492.1 149.7,492.1 150.5,492.2 151.2,492.2 152.0,492.2 152.8,492.2 153.6,492.2 154.4,492.2 155.2,492.2 155.9,492.2 156.7,492.2 157.5,492.2 158.3,492.2 159.1,492.2 159.9,492.2 160.6,492.1 161.4,491.9 162.2,491.7 163.0,491.6 163.8,491.4 164.5,491.2 165.3,491.1 166.1,491.1 166.9,491.1 167.7,491.1 168.5,491.1 169.2,491.1 170.0,491.0 170.8,491.0 171.6,491.0 172.4,491.0 173.2,491.0 173.9,491.0 174.7,491.0 175.5,490.9 176.3,490.9 177.1,490.9 177.8,490.9 178.6,490.9 179.4,490.8 180.2,490.8 181.0,490.9 181.8,491.1 182.5,491.3 183.3,491.5 184.1,491.8 184.9,492.0 185.7,491.9 186.4,491.8 187.2,491.7 188.0,491.6 188.8,491.5 189.6,491.4 190.4,491.3 191.1,491.2 191.9,491.1 192.7,490.9 193.5,490.8 194.3,490.8 195.1,490.8 195.8,490.8 196.6,490.7 197.4,490.6 198.2,490.5 199.0,490.4 199.7,490.1 200.5,489.8 201.3,489.2 202.1,488.5 202.9,487.6 203.7,486.3 204.4,484.7 205.2,482.7 206.0,480.1 206.8,476.8 207.6,472.8 208.4,467.9 209.1,462.0 209.9,455.1 210.7,447.1 211.5,438.0 212.3,427.8 213.0,416.6 213.8,404.6 214.6,392.0 215.4,379.0 216.2,366.0 217.0,353.3 217.7,341.4 218.5,330.7 219.3,321.6 220.1,314.5 220.9,309.6 221.6,307.3 222.4,307.3 223.2,308.9 224.0,311.9 224.8,316.2 225.6,321.5 226.3,327.6 227.1,334.4 227.9,341.7 228.7,349.1 229.5,356.7 230.3,364.2 231.0,371.5 231.8,378.5 232.6,385.3 233.4,391.7 234.2,397.7 234.9,403.3 235.7,408.6 236.5,413.4 237.3,418.0 238.1,422.1 238.9,426.0 239.6,429.5 240.4,432.7 241.2,435.6 242.0,438.3 242.8,440.7 243.6,442.8 244.3,444.8 245.1,446.5 245.9,448.1 246.7,449.4 247.5,450.6 248.2,451.5 249.0,452.4 249.8,453.0 250.6,453.5 251.4,453.8 252.2,454.0 252.9,453.9 253.7,453.7 254.5,453.4 255.3,452.9 256.1,452.2 256.8,451.3 257.6,450.3 258.4,449.1 259.2,447.7 260.0,446.1 260.8,444.3 261.5,442.3 262.3,440.2 263.1,437.8 263.9,435.3 264.7,432.6 265.5,429.8 266.2,426.9 267.0,424.0 267.8,421.0 268.6,418.2 269.4,415.5 270.1,413.0 270.9,411.0 271.7,409.3 272.5,408.2 273.3,407.7 274.1,407.9 274.8,408.4 275.6,409.4 276.4,410.8 277.2,412.5 278.0,414.5 278.8,416.8 279.5,419.4 280.3,422.2 281.1,425.1 281.9,428.2 282.7,431.4 283.4,434.7 284.2,438.0 285.0,441.2 285.8,444.5 286.6,447.7 287.4,450.8 288.1,453.8 288.9,456.8 289.7,459.6 290.5,462.2 291.3,464.7 292.0,467.1 292.8,469.3 293.6,471.4 294.4,473.3 295.2,475.1 296.0,476.7 296.7,478.2 297.5,479.6 298.3,480.8 299.1,481.9 299.9,482.9 300.7,483.8 301.4,484.6 302.2,485.4 303.0,486.0 303.8,486.6 304.6,487.1 305.3,487.6 306.1,487.9 306.9,488.2 307.7,488.4 308.5,488.6 309.3,488.8 310.0,488.9 310.8,489.1 311.6,489.2 312.4,489.3 313.2,489.3 314.0,489.4 314.7,489.6 315.5,489.7 316.3,489.9 317.1,490.1 317.9,490.2 318.6,490.4 319.4,490.5 320.2,490.7 321.0,490.8 321.8,491.0 322.6,491.1 323.3,491.2 324.1,491.3 324.9,491.4 325.7,491.5 326.5,491.5 327.2,491.6 328.0,491.7 328.8,491.8 329.6,491.9 330.4,491.9 331.2,492.0 331.9,492.0 332.7,492.0 333.5,492.0 334.3,492.0 335.1,492.0 335.9,492.0 336.6,492.0 337.4,492.0 338.2,492.0" fill="none" stroke="#00ff00" stroke-width="1.65" stroke-linejoin="round" stroke-linecap="round"/>
<path d="M56.6,492.8 57.4,492.5 58.2,492.3 58.9,492.0 59.7,491.7 60.5,491.5 61.3,491.2 62.1,491.0 62.9,490.7 63.6,490.5 64.4,490.7 65.2,490.9 66.0,491.1 66.8,491.1 67.6,490.8 68.3,490.5 69.1,490.2 69.9,489.8 70.7,489.4 71.5,489.0 72.2,488.6 73.0,488.5 73.8,489.4 74.6,490.2 75.4,490.6 76.2,490.8 76.9,491.0 77.7,491.2 78.5,491.1 79.3,490.9 80.1,490.8 80.8,490.6 81.6,490.5 82.4,490.4 83.2,490.2 84.0,490.2 84.8,490.2 85.5,490.2 86.3,490.2 87.1,490.2 87.9,490.2 88.7,490.2 89.5,490.2 90.2,490.2 91.0,490.2 91.8,490.2 92.6,490.2 93.4,490.3 94.1,490.3 94.9,490.4 95.7,490.4 96.5,490.4 97.3,490.5 98.1,490.5 98.8,490.4 99.6,490.4 100.4,490.4 101.2,490.4 102.0,490.3 102.8,490.3 103.5,490.3 104.3,490.2 105.1,490.2 105.9,490.2 106.7,490.1 107.4,490.1 108.2,490.1 109.0,490.0 109.8,490.0 110.6,490.0 111.4,490.1 112.1,490.2 112.9,490.3 113.7,490.3 114.5,490.4 115.3,490.5 116.0,490.6 116.8,490.6 117.6,490.7 118.4,490.8 119.2,490.7 120.0,490.4 120.7,490.2 121.5,489.9 122.3,489.7 123.1,489.5 123.9,489.2 124.7,489.0 125.4,488.8 126.2,488.5 127.0,488.3 127.8,488.3 128.6,488.4 129.3,488.5 130.1,488.6 130.9,488.7 131.7,488.8 132.5,488.9 133.3,489.0 134.0,489.1 134.8,489.0 135.6,488.9 136.4,488.8 137.2,488.7 138.0,488.6 138.7,488.5 139.5,488.4 140.3,488.3 141.1,488.3 141.9,488.5 142.6,488.8 143.4,489.1 144.2,489.4 145.0,489.6 145.8,489.9 146.6,489.8 147.3,489.5 148.1,489.3 148.9,489.0 149.7,488.7 150.5,488.4 151.2,488.2 152.0,488.3 152.8,488.4 153.6,488.5 154.4,488.5 155.2,488.6 155.9,488.7 156.7,488.8 157.5,488.8 158.3,488.9 159.1,489.0 159.9,489.1 160.6,489.0 161.4,488.9 162.2,488.7 163.0,488.6 163.8,488.5 164.5,488.4 165.3,488.2 166.1,488.1 166.9,488.0 167.7,487.9 168.5,487.7 169.2,487.7 170.0,487.8 170.8,487.8 171.6,487.8 172.4,487.9 173.2,487.9 173.9,487.9 174.7,488.0 175.5,488.0 176.3,488.1 177.1,488.1 177.8,488.2 178.6,488.3 179.4,488.3 180.2,488.4 181.0,488.5 181.8,488.6 182.5,488.7 183.3,488.8 184.1,488.9 184.9,488.9 185.7,489.0 186.4,489.1 187.2,489.2 188.0,489.3 188.8,489.4 189.6,489.4 190.4,489.4 191.1,489.5 191.9,489.5 192.7,489.5 193.5,489.5 194.3,489.5 195.1,489.4 195.8,489.4 196.6,489.3 197.4,489.3 198.2,489.2 199.0,489.1 199.7,489.3 200.5,489.5 201.3,489.7 202.1,489.9 202.9,489.6 203.7,489.3 204.4,489.0 205.2,488.6 206.0,488.2 206.8,487.6 207.6,487.1 208.4,486.4 209.1,485.7 209.9,484.9 210.7,484.1 211.5,483.1 212.3,482.2 213.0,481.2 213.8,480.2 214.6,479.1 215.4,478.1 216.2,477.1 217.0,476.2 217.7,475.3 218.5,474.6 219.3,473.9 220.1,473.4 220.9,473.1 221.6,472.9 222.4,472.9 223.2,473.2 224.0,473.8 224.8,474.5 225.6,475.5 226.3,476.5 227.1,477.5 227.9,478.4 228.7,479.4 229.5,480.2 230.3,481.0 231.0,481.7 231.8,482.3 232.6,482.9 233.4,483.3 234.2,483.8 234.9,484.1 235.7,484.4 236.5,484.7 237.3,484.9 238.1,485.1 238.9,485.3 239.6,485.4 240.4,485.5 241.2,485.6 242.0,485.7 242.8,485.7 243.6,485.9 244.3,486.0 245.1,486.1 245.9,486.3 246.7,486.4 247.5,486.4 248.2,486.5 249.0,486.6 249.8,486.6 250.6,486.7 251.4,487.0 252.2,487.3 252.9,487.5 253.7,487.8 254.5,488.1 255.3,488.3 256.1,488.5 256.8,488.6 257.6,488.4 258.4,488.2 259.2,488.0 260.0,487.7 260.8,487.4 261.5,487.1 262.3,486.8 263.1,486.6 263.9,486.4 264.7,486.1 265.5,485.9 266.2,485.6 267.0,485.3 267.8,485.0 268.6,484.7 269.4,484.4 270.1,484.2 270.9,483.9 271.7,483.6 272.5,483.4 273.3,483.2 274.1,483.0 274.8,482.9 275.6,482.8 276.4,482.8 277.2,482.9 278.0,483.0 278.8,483.1 279.5,483.3 280.3,483.5 281.1,483.6 281.9,483.9 282.7,484.1 283.4,484.3 284.2,484.6 285.0,484.9 285.8,485.2 286.6,485.5 287.4,485.8 288.1,486.2 288.9,486.5 289.7,486.9 290.5,487.2 291.3,487.6 292.0,488.0 292.8,488.3 293.6,488.5 294.4,488.6 295.2,488.7 296.0,488.8 296.7,488.9 297.5,489.0 298.3,489.1 299.1,489.2 299.9,489.2 300.7,489.3 301.4,489.4 302.2,489.4 303.0,489.6 303.8,489.8 304.6,490.0 305.3,490.2 306.1,490.3 306.9,490.5 307.7,490.6 308.5,490.8 309.3,490.9 310.0,491.0 310.8,491.1 311.6,491.2 312.4,491.3 313.2,491.4 314.0,491.5 314.7,491.6 315.5,491.7 316.3,491.7 317.1,491.8 317.9,491.8 318.6,491.9 319.4,491.9 320.2,492.0 321.0,492.0 321.8,492.1 322.6,492.1 323.3,492.2 324.1,492.2 324.9,492.2 325.7,492.3 326.5,492.3 327.2,492.3 328.0,492.4 328.8,492.4 329.6,492.4 330.4,492.5 331.2,492.5 331.9,492.5 332.7,492.5 333.5,492.5 334.3,492.5 335.1,492.5 335.9,492.5 336.6,492.5 337.4,492.5 338.2,492.5" fill="none" stroke="#000000" stroke-width="1.65" stroke-linejoin="round" stroke-linecap="round"/>
<path d="M56.6,481.5 57.4,482.7 58.2,485.0 58.9,485.7 59.7,484.7 60.5,483.7 61.3,482.9 62.1,482.3 62.9,481.7 63.6,481.3 64.4,481.8 65.2,482.3 66.0,482.9 66.8,483.4 67.6,483.2 68.3,482.5 69.1,481.8 69.9,481.1 70.7,480.5 71.5,480.4 72.2,480.3 73.0,480.2 73.8,480.1 74.6,480.0 75.4,479.9 76.2,479.8 76.9,480.0 77.7,480.1 78.5,480.3 79.3,480.5 80.1,480.7 80.8,480.9 81.6,481.1 82.4,481.1 83.2,480.8 84.0,480.6 84.8,480.3 85.5,480.0 86.3,479.8 87.1,479.6 87.9,479.4 88.7,479.2 89.5,479.0 90.2,478.8 91.0,478.6 91.8,478.4 92.6,478.4 93.4,478.5 94.1,478.6 94.9,478.6 95.7,478.7 96.5,478.7 97.3,478.8 98.1,478.7 98.8,478.6 99.6,478.5 100.4,478.5 101.2,478.4 102.0,478.4 102.8,478.3 103.5,478.3 104.3,478.2 105.1,478.2 105.9,478.2 106.7,478.1 107.4,478.1 108.2,478.0 109.0,477.9 109.8,477.8 110.6,477.8 111.4,477.7 112.1,477.6 112.9,477.5 113.7,477.4 114.5,477.3 115.3,477.2 116.0,477.1 116.8,477.0 117.6,476.9 118.4,476.8 119.2,476.9 120.0,477.0 120.7,477.2 121.5,477.3 122.3,477.4 123.1,477.6 123.9,477.7 124.7,477.8 125.4,478.0 126.2,478.0 127.0,477.9 127.8,477.8 128.6,477.8 129.3,477.7 130.1,477.6 130.9,477.6 131.7,477.5 132.5,477.5 133.3,477.4 134.0,477.3 134.8,477.3 135.6,477.2 136.4,477.3 137.2,477.5 138.0,477.7 138.7,477.9 139.5,478.1 140.3,478.3 141.1,478.5 141.9,478.7 142.6,478.9 143.4,479.1 144.2,479.2 145.0,479.4 145.8,479.5 146.6,479.7 147.3,479.8 148.1,480.0 148.9,480.2 149.7,480.3 150.5,480.5 151.2,480.6 152.0,480.7 152.8,480.9 153.6,481.0 154.4,481.1 155.2,481.2 155.9,481.3 156.7,481.4 157.5,481.5 158.3,481.7 159.1,481.8 159.9,481.9 160.6,482.0 161.4,482.1 162.2,482.2 163.0,482.3 163.8,482.4 164.5,482.5 165.3,482.6 166.1,482.7 166.9,482.8 167.7,482.9 168.5,483.0 169.2,483.2 170.0,483.3 170.8,483.4 171.6,483.5 172.4,483.6 173.2,483.7 173.9,483.8 174.7,483.9 175.5,484.0 176.3,484.1 177.1,484.1 177.8,484.2 178.6,484.2 179.4,484.3 180.2,484.3 181.0,484.4 181.8,484.4 182.5,484.5 183.3,484.5 184.1,484.6 184.9,484.6 185.7,484.7 186.4,484.9 187.2,485.1 188.0,485.3 188.8,485.6 189.6,485.7 190.4,485.6 191.1,485.5 191.9,485.4 192.7,485.3 193.5,485.2 194.3,485.1 195.1,485.0 195.8,484.9 196.6,484.8 197.4,484.7 198.2,484.5 199.0,484.5 199.7,484.7 200.5,484.8 201.3,484.9 202.1,485.0 202.9,485.3 203.7,485.5 204.4,485.6 205.2,485.7 206.0,485.3 206.8,484.6 207.6,483.9 208.4,483.0 209.1,482.1 209.9,481.1 210.7,480.0 211.5,478.8 212.3,477.6 213.0,476.4 213.8,475.1 214.6,473.9 215.4,472.6 216.2,471.5 217.0,470.4 217.7,469.4 218.5,468.5 219.3,467.8 220.1,467.2 220.9,466.8 221.6,466.7 222.4,466.7 223.2,467.1 224.0,467.6 224.8,468.4 225.6,469.4 226.3,470.5 227.1,471.7 227.9,472.9 228.7,474.0 229.5,475.2 230.3,476.3 231.0,477.3 231.8,478.2 232.6,479.1 233.4,479.9 234.2,480.7 234.9,481.4 235.7,482.0 236.5,482.5 237.3,483.0 238.1,483.5 238.9,483.9 239.6,484.3 240.4,484.6 241.2,484.8 242.0,484.9 242.8,484.9 243.6,485.0 244.3,485.0 245.1,485.0 245.9,484.9 246.7,484.9 247.5,484.8 248.2,484.8 249.0,484.6 249.8,484.5 250.6,484.3 251.4,484.2 252.2,484.0 252.9,483.8 253.7,483.6 254.5,483.3 255.3,483.2 256.1,483.0 256.8,482.8 257.6,482.6 258.4,482.4 259.2,482.2 260.0,481.9 260.8,481.7 261.5,481.8 262.3,481.9 263.1,482.0 263.9,482.0 264.7,482.0 265.5,482.0 266.2,481.9 267.0,481.8 267.8,481.6 268.6,481.5 269.4,481.3 270.1,481.1 270.9,480.9 271.7,480.8 272.5,480.7 273.3,480.7 274.1,480.7 274.8,480.9 275.6,481.2 276.4,481.6 277.2,481.9 278.0,482.3 278.8,482.7 279.5,483.1 280.3,483.5 281.1,484.0 281.9,484.4 282.7,484.9 283.4,485.3 284.2,485.8 285.0,486.3 285.8,486.8 286.6,487.3 287.4,487.8 288.1,488.4 288.9,488.6 289.7,488.5 290.5,488.5 291.3,488.5 292.0,488.5 292.8,488.5 293.6,488.4 294.4,488.4 295.2,488.4 296.0,488.4 296.7,488.4 297.5,488.5 298.3,488.6 299.1,488.7 299.9,488.8 300.7,488.9 301.4,489.0 302.2,489.1 303.0,489.2 303.8,489.2 304.6,489.3 305.3,489.4 306.1,489.5 306.9,489.6 307.7,489.7 308.5,489.8 309.3,489.9 310.0,490.0 310.8,490.0 311.6,490.1 312.4,490.2 313.2,490.2 314.0,490.3 314.7,490.5 315.5,490.6 316.3,490.8 317.1,491.0 317.9,491.1 318.6,491.3 319.4,491.4 320.2,491.6 321.0,491.7 321.8,491.9 322.6,492.0 323.3,491.9 324.1,491.8 324.9,491.7 325.7,491.6 326.5,491.5 327.2,491.4 328.0,491.3 328.8,491.2 329.6,491.0 330.4,490.9 331.2,490.8 331.9,490.8 332.7,490.9 333.5,490.9 334.3,491.0 335.1,491.0 335.9,491.0 336.6,491.0 337.4,491.1 338.2,491.1" fill="none" stroke="#b4b200" stroke-width="1.65" stroke-linejoin="round" stroke-linecap="round"/>
</g>
<rect x="56.6" y="281.3" width="281.60" height="212.00" fill="none" stroke="#000" stroke-width="1.2"/>
<line x1="103.53" y1="493.3" x2="103.53" y2="497.80" stroke="#000" stroke-width="1.1"/>
<text x="103.53" y="508.6" text-anchor="middle" class="tl">500</text>
<line x1="181.76" y1="493.3" x2="181.76" y2="497.80" stroke="#000" stroke-width="1.1"/>
<text x="181.76" y="508.6" text-anchor="middle" class="tl">600</text>
<line x1="259.98" y1="493.3" x2="259.98" y2="497.80" stroke="#000" stroke-width="1.1"/>
<text x="259.98" y="508.6" text-anchor="middle" class="tl">700</text>
<line x1="338.20" y1="493.3" x2="338.20" y2="497.80" stroke="#000" stroke-width="1.1"/>
<text x="338.20" y="508.6" text-anchor="middle" class="tl">800</text>
<line x1="64.42" y1="493.3" x2="64.42" y2="495.80" stroke="#000" stroke-width="1.1"/>
<line x1="142.64" y1="493.3" x2="142.64" y2="495.80" stroke="#000" stroke-width="1.1"/>
<line x1="220.87" y1="493.3" x2="220.87" y2="495.80" stroke="#000" stroke-width="1.1"/>
<line x1="299.09" y1="493.3" x2="299.09" y2="495.80" stroke="#000" stroke-width="1.1"/>
<line x1="52.10" y1="493.30" x2="56.6" y2="493.30" stroke="#000" stroke-width="1.1"/>
<text x="48.6" y="496.60" text-anchor="end" class="tl">0</text>
<line x1="52.10" y1="454.75" x2="56.6" y2="454.75" stroke="#000" stroke-width="1.1"/>
<text x="48.6" y="458.05" text-anchor="end" class="tl">100</text>
<line x1="52.10" y1="416.21" x2="56.6" y2="416.21" stroke="#000" stroke-width="1.1"/>
<text x="48.6" y="419.51" text-anchor="end" class="tl">200</text>
<line x1="52.10" y1="377.66" x2="56.6" y2="377.66" stroke="#000" stroke-width="1.1"/>
<text x="48.6" y="380.96" text-anchor="end" class="tl">300</text>
<line x1="52.10" y1="339.12" x2="56.6" y2="339.12" stroke="#000" stroke-width="1.1"/>
<text x="48.6" y="342.42" text-anchor="end" class="tl">400</text>
<line x1="52.10" y1="300.57" x2="56.6" y2="300.57" stroke="#000" stroke-width="1.1"/>
<text x="48.6" y="303.87" text-anchor="end" class="tl">500</text>
<line x1="54.10" y1="474.03" x2="56.6" y2="474.03" stroke="#000" stroke-width="1.1"/>
<line x1="54.10" y1="435.48" x2="56.6" y2="435.48" stroke="#000" stroke-width="1.1"/>
<line x1="54.10" y1="396.94" x2="56.6" y2="396.94" stroke="#000" stroke-width="1.1"/>
<line x1="54.10" y1="358.39" x2="56.6" y2="358.39" stroke="#000" stroke-width="1.1"/>
<line x1="54.10" y1="319.85" x2="56.6" y2="319.85" stroke="#000" stroke-width="1.1"/>
<line x1="54.10" y1="281.30" x2="56.6" y2="281.30" stroke="#000" stroke-width="1.1"/>
<text x="65.6" y="303.8" class="pl2">(b)</text>
<text x="197.2" y="529.2" text-anchor="middle" class="ax2">Wavelength (nm)</text>
<text transform="translate(23,393) rotate(-90)" text-anchor="middle" class="ay2">Intensity (a. u.)</text>
<text x="223.4" y="302.8" text-anchor="middle" class="pk2">651</text>
<text x="278.1" y="405.5" text-anchor="middle" class="pk2">718</text>
<line x1="264.5" y1="289.40" x2="284.2" y2="289.40" stroke="#7a7a7a" stroke-width="1.9"/>
<text transform="translate(286.1,292.00) scale(0.91,1)" class="lg">dMeDEOS</text>
<line x1="264.5" y1="299.15" x2="284.2" y2="299.15" stroke="#ff0000" stroke-width="1.9"/>
<text transform="translate(286.1,301.75) scale(0.91,1)" class="lg">EtTEOS</text>
<line x1="264.5" y1="308.90" x2="284.2" y2="308.90" stroke="#ff00ff" stroke-width="1.9"/>
<text transform="translate(286.1,311.50) scale(0.91,1)" class="lg">VyTEOS</text>
<line x1="264.5" y1="318.65" x2="284.2" y2="318.65" stroke="#0000ff" stroke-width="1.9"/>
<text transform="translate(286.1,321.25) scale(0.91,1)" class="lg">AllyTMOS</text>
<line x1="264.5" y1="328.40" x2="284.2" y2="328.40" stroke="#00ffff" stroke-width="1.9"/>
<text transform="translate(286.1,331.00) scale(0.91,1)" class="lg">AmTEOS</text>
<line x1="264.5" y1="338.15" x2="284.2" y2="338.15" stroke="#00ff00" stroke-width="1.9"/>
<text transform="translate(286.1,340.75) scale(0.91,1)" class="lg">DoTEOS</text>
<line x1="264.5" y1="347.90" x2="284.2" y2="347.90" stroke="#000000" stroke-width="1.9"/>
<text transform="translate(286.1,350.50) scale(0.91,1)" class="lg">Φ-TEOS</text>
<line x1="264.5" y1="357.65" x2="284.2" y2="357.65" stroke="#b4b200" stroke-width="1.9"/>
<text transform="translate(286.1,360.25) scale(0.91,1)" class="lg">Blank-c</text>
</svg>
</body></html>
